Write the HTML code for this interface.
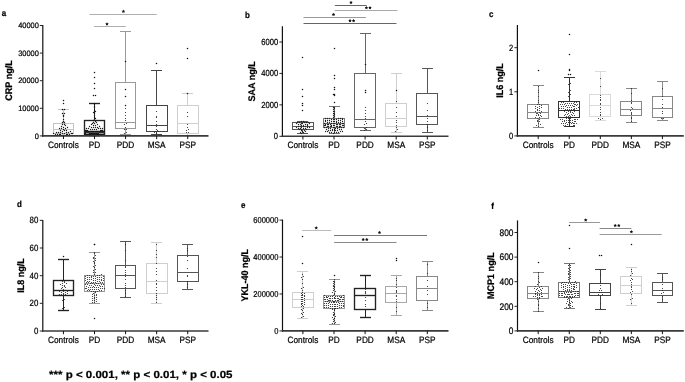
<!DOCTYPE html>
<html><head><meta charset="utf-8"><style>
html,body{margin:0;padding:0;background:#fff;width:685px;height:382px;overflow:hidden}
svg{display:block;will-change:transform}
text{font-family:"Liberation Sans", sans-serif;fill:#000;stroke:#000;stroke-width:0.22px;text-rendering:geometricPrecision}
</style></head><body>
<svg width="685" height="382" viewBox="0 0 685 382">
<rect width="685" height="382" fill="#fff"/>
<line x1="63.50" y1="109.50" x2="63.50" y2="123.50" stroke="#c4c4c4" stroke-width="1"/>
<line x1="63.50" y1="133.50" x2="63.50" y2="135.50" stroke="#c4c4c4" stroke-width="1"/>
<line x1="58.00" y1="109.50" x2="69.00" y2="109.50" stroke="#c4c4c4" stroke-width="1.0"/>
<line x1="58.00" y1="135.50" x2="69.00" y2="135.50" stroke="#c4c4c4" stroke-width="1.0"/>
<rect x="53.50" y="123.50" width="20.00" height="10.00" fill="none" stroke="#c4c4c4" stroke-width="1.0"/>
<line x1="53.50" y1="129.50" x2="73.50" y2="129.50" stroke="#c4c4c4" stroke-width="1.0"/>
<line x1="94.50" y1="103.50" x2="94.50" y2="120.50" stroke="#222" stroke-width="1"/>
<line x1="94.50" y1="134.50" x2="94.50" y2="135.50" stroke="#222" stroke-width="1"/>
<line x1="89.00" y1="103.50" x2="100.00" y2="103.50" stroke="#222" stroke-width="1.35"/>
<line x1="89.00" y1="135.50" x2="100.00" y2="135.50" stroke="#222" stroke-width="1.35"/>
<rect x="84.50" y="120.50" width="20.00" height="14.00" fill="none" stroke="#222" stroke-width="1.35"/>
<line x1="84.50" y1="131.50" x2="104.50" y2="131.50" stroke="#222" stroke-width="1.35"/>
<line x1="125.50" y1="31.50" x2="125.50" y2="82.50" stroke="#9a9a9a" stroke-width="1"/>
<line x1="125.50" y1="128.50" x2="125.50" y2="134.50" stroke="#9a9a9a" stroke-width="1"/>
<line x1="120.00" y1="31.50" x2="131.00" y2="31.50" stroke="#9a9a9a" stroke-width="1.0"/>
<line x1="120.00" y1="134.50" x2="131.00" y2="134.50" stroke="#9a9a9a" stroke-width="1.0"/>
<rect x="115.50" y="82.50" width="20.00" height="46.00" fill="none" stroke="#9a9a9a" stroke-width="1.0"/>
<line x1="115.50" y1="122.50" x2="135.50" y2="122.50" stroke="#9a9a9a" stroke-width="1.0"/>
<line x1="156.50" y1="70.50" x2="156.50" y2="105.50" stroke="#444" stroke-width="1"/>
<line x1="156.50" y1="131.50" x2="156.50" y2="134.50" stroke="#444" stroke-width="1"/>
<line x1="151.00" y1="70.50" x2="162.00" y2="70.50" stroke="#444" stroke-width="1.0"/>
<line x1="151.00" y1="134.50" x2="162.00" y2="134.50" stroke="#444" stroke-width="1.0"/>
<rect x="146.50" y="105.50" width="21.00" height="26.00" fill="none" stroke="#444" stroke-width="1.0"/>
<line x1="146.50" y1="125.50" x2="167.50" y2="125.50" stroke="#444" stroke-width="1.0"/>
<line x1="187.50" y1="93.50" x2="187.50" y2="105.50" stroke="#cfcfcf" stroke-width="1"/>
<line x1="187.50" y1="133.50" x2="187.50" y2="135.50" stroke="#cfcfcf" stroke-width="1"/>
<line x1="182.00" y1="93.50" x2="193.00" y2="93.50" stroke="#cfcfcf" stroke-width="1.0"/>
<line x1="182.00" y1="135.50" x2="193.00" y2="135.50" stroke="#cfcfcf" stroke-width="1.0"/>
<rect x="177.50" y="105.50" width="21.00" height="28.00" fill="none" stroke="#cfcfcf" stroke-width="1.0"/>
<line x1="177.50" y1="123.50" x2="198.50" y2="123.50" stroke="#cfcfcf" stroke-width="1.0"/>
<circle cx="62.5" cy="135.5" r="0.68" fill="#1a1a1a"/>
<circle cx="64.5" cy="135.5" r="0.68" fill="#1a1a1a"/>
<circle cx="60.5" cy="134.5" r="0.68" fill="#1a1a1a"/>
<circle cx="66.5" cy="134.5" r="0.68" fill="#1a1a1a"/>
<circle cx="59.5" cy="134.5" r="0.68" fill="#1a1a1a"/>
<circle cx="67.5" cy="134.5" r="0.68" fill="#1a1a1a"/>
<circle cx="57.5" cy="134.5" r="0.68" fill="#1a1a1a"/>
<circle cx="69.5" cy="134.5" r="0.68" fill="#1a1a1a"/>
<circle cx="55.5" cy="134.5" r="0.68" fill="#1a1a1a"/>
<circle cx="71.5" cy="133.5" r="0.68" fill="#1a1a1a"/>
<circle cx="53.5" cy="133.5" r="0.68" fill="#1a1a1a"/>
<circle cx="72.5" cy="133.5" r="0.68" fill="#1a1a1a"/>
<circle cx="62.5" cy="133.5" r="0.68" fill="#1a1a1a"/>
<circle cx="64.5" cy="133.5" r="0.68" fill="#1a1a1a"/>
<circle cx="60.5" cy="132.5" r="0.68" fill="#1a1a1a"/>
<circle cx="66.5" cy="132.5" r="0.68" fill="#1a1a1a"/>
<circle cx="58.5" cy="132.5" r="0.68" fill="#1a1a1a"/>
<circle cx="68.5" cy="132.5" r="0.68" fill="#1a1a1a"/>
<circle cx="56.5" cy="132.5" r="0.68" fill="#1a1a1a"/>
<circle cx="70.5" cy="131.5" r="0.68" fill="#1a1a1a"/>
<circle cx="62.5" cy="131.5" r="0.68" fill="#1a1a1a"/>
<circle cx="64.5" cy="130.5" r="0.68" fill="#1a1a1a"/>
<circle cx="60.5" cy="130.5" r="0.68" fill="#1a1a1a"/>
<circle cx="66.5" cy="130.5" r="0.68" fill="#1a1a1a"/>
<circle cx="63.5" cy="129.5" r="0.68" fill="#1a1a1a"/>
<circle cx="61.5" cy="128.5" r="0.68" fill="#1a1a1a"/>
<circle cx="65.5" cy="128.5" r="0.68" fill="#1a1a1a"/>
<circle cx="59.5" cy="128.5" r="0.68" fill="#1a1a1a"/>
<circle cx="67.5" cy="127.5" r="0.68" fill="#1a1a1a"/>
<circle cx="63.5" cy="127.5" r="0.68" fill="#1a1a1a"/>
<circle cx="61.5" cy="126.5" r="0.68" fill="#1a1a1a"/>
<circle cx="65.5" cy="125.5" r="0.68" fill="#1a1a1a"/>
<circle cx="62.5" cy="124.5" r="0.68" fill="#1a1a1a"/>
<circle cx="64.5" cy="124.5" r="0.68" fill="#1a1a1a"/>
<circle cx="62.5" cy="122.5" r="0.68" fill="#1a1a1a"/>
<circle cx="64.5" cy="122.5" r="0.68" fill="#1a1a1a"/>
<circle cx="63.5" cy="121.5" r="0.68" fill="#1a1a1a"/>
<circle cx="63.5" cy="119.5" r="0.68" fill="#1a1a1a"/>
<circle cx="63.5" cy="116.5" r="0.68" fill="#1a1a1a"/>
<circle cx="63.5" cy="115.5" r="0.75" fill="#111"/>
<circle cx="62.5" cy="113.5" r="0.75" fill="#111"/>
<circle cx="64.5" cy="113.5" r="0.68" fill="#1a1a1a"/>
<circle cx="62.5" cy="109.5" r="0.75" fill="#111"/>
<circle cx="64.5" cy="109.5" r="0.75" fill="#111"/>
<circle cx="63.5" cy="103.5" r="0.75" fill="#111"/>
<circle cx="63.5" cy="100.5" r="0.75" fill="#111"/>
<circle cx="94.5" cy="135.5" r="0.68" fill="#1a1a1a"/>
<circle cx="93.5" cy="135.5" r="0.68" fill="#1a1a1a"/>
<circle cx="95.5" cy="135.5" r="0.68" fill="#1a1a1a"/>
<circle cx="92.5" cy="135.5" r="0.68" fill="#1a1a1a"/>
<circle cx="96.5" cy="135.5" r="0.68" fill="#1a1a1a"/>
<circle cx="91.5" cy="135.5" r="0.68" fill="#1a1a1a"/>
<circle cx="97.5" cy="134.5" r="0.68" fill="#1a1a1a"/>
<circle cx="91.5" cy="134.5" r="0.68" fill="#1a1a1a"/>
<circle cx="97.5" cy="134.5" r="0.68" fill="#1a1a1a"/>
<circle cx="90.5" cy="134.5" r="0.68" fill="#1a1a1a"/>
<circle cx="98.5" cy="134.5" r="0.68" fill="#1a1a1a"/>
<circle cx="89.5" cy="134.5" r="0.68" fill="#1a1a1a"/>
<circle cx="99.5" cy="134.5" r="0.68" fill="#1a1a1a"/>
<circle cx="88.5" cy="134.5" r="0.68" fill="#1a1a1a"/>
<circle cx="100.5" cy="134.5" r="0.68" fill="#1a1a1a"/>
<circle cx="87.5" cy="134.5" r="0.68" fill="#1a1a1a"/>
<circle cx="101.5" cy="134.5" r="0.68" fill="#1a1a1a"/>
<circle cx="86.5" cy="134.5" r="0.68" fill="#1a1a1a"/>
<circle cx="102.5" cy="134.5" r="0.68" fill="#1a1a1a"/>
<circle cx="85.5" cy="134.5" r="0.68" fill="#1a1a1a"/>
<circle cx="103.5" cy="134.5" r="0.68" fill="#1a1a1a"/>
<circle cx="85.5" cy="133.5" r="0.68" fill="#1a1a1a"/>
<circle cx="104.5" cy="133.5" r="0.68" fill="#1a1a1a"/>
<circle cx="94.5" cy="133.5" r="0.68" fill="#1a1a1a"/>
<circle cx="93.5" cy="133.5" r="0.68" fill="#1a1a1a"/>
<circle cx="95.5" cy="133.5" r="0.68" fill="#1a1a1a"/>
<circle cx="92.5" cy="133.5" r="0.68" fill="#1a1a1a"/>
<circle cx="96.5" cy="133.5" r="0.68" fill="#1a1a1a"/>
<circle cx="92.5" cy="133.5" r="0.68" fill="#1a1a1a"/>
<circle cx="96.5" cy="133.5" r="0.68" fill="#1a1a1a"/>
<circle cx="91.5" cy="133.5" r="0.68" fill="#1a1a1a"/>
<circle cx="97.5" cy="133.5" r="0.68" fill="#1a1a1a"/>
<circle cx="90.5" cy="133.5" r="0.68" fill="#1a1a1a"/>
<circle cx="98.5" cy="133.5" r="0.68" fill="#1a1a1a"/>
<circle cx="89.5" cy="133.5" r="0.68" fill="#1a1a1a"/>
<circle cx="99.5" cy="132.5" r="0.68" fill="#1a1a1a"/>
<circle cx="88.5" cy="132.5" r="0.68" fill="#1a1a1a"/>
<circle cx="100.5" cy="132.5" r="0.68" fill="#1a1a1a"/>
<circle cx="88.5" cy="132.5" r="0.68" fill="#1a1a1a"/>
<circle cx="100.5" cy="132.5" r="0.68" fill="#1a1a1a"/>
<circle cx="87.5" cy="132.5" r="0.68" fill="#1a1a1a"/>
<circle cx="101.5" cy="132.5" r="0.68" fill="#1a1a1a"/>
<circle cx="86.5" cy="132.5" r="0.68" fill="#1a1a1a"/>
<circle cx="102.5" cy="132.5" r="0.68" fill="#1a1a1a"/>
<circle cx="85.5" cy="132.5" r="0.68" fill="#1a1a1a"/>
<circle cx="103.5" cy="132.5" r="0.68" fill="#1a1a1a"/>
<circle cx="85.5" cy="132.5" r="0.68" fill="#1a1a1a"/>
<circle cx="104.5" cy="132.5" r="0.68" fill="#1a1a1a"/>
<circle cx="93.5" cy="131.5" r="0.68" fill="#1a1a1a"/>
<circle cx="95.5" cy="131.5" r="0.68" fill="#1a1a1a"/>
<circle cx="92.5" cy="131.5" r="0.68" fill="#1a1a1a"/>
<circle cx="96.5" cy="131.5" r="0.68" fill="#1a1a1a"/>
<circle cx="91.5" cy="131.5" r="0.68" fill="#1a1a1a"/>
<circle cx="97.5" cy="131.5" r="0.68" fill="#1a1a1a"/>
<circle cx="90.5" cy="131.5" r="0.68" fill="#1a1a1a"/>
<circle cx="98.5" cy="131.5" r="0.68" fill="#1a1a1a"/>
<circle cx="88.5" cy="131.5" r="0.68" fill="#1a1a1a"/>
<circle cx="100.5" cy="130.5" r="0.68" fill="#1a1a1a"/>
<circle cx="87.5" cy="130.5" r="0.68" fill="#1a1a1a"/>
<circle cx="101.5" cy="130.5" r="0.68" fill="#1a1a1a"/>
<circle cx="86.5" cy="130.5" r="0.68" fill="#1a1a1a"/>
<circle cx="102.5" cy="130.5" r="0.68" fill="#1a1a1a"/>
<circle cx="85.5" cy="130.5" r="0.68" fill="#1a1a1a"/>
<circle cx="104.5" cy="130.5" r="0.68" fill="#1a1a1a"/>
<circle cx="94.5" cy="129.5" r="0.68" fill="#1a1a1a"/>
<circle cx="92.5" cy="129.5" r="0.68" fill="#1a1a1a"/>
<circle cx="96.5" cy="129.5" r="0.68" fill="#1a1a1a"/>
<circle cx="90.5" cy="129.5" r="0.68" fill="#1a1a1a"/>
<circle cx="98.5" cy="128.5" r="0.68" fill="#1a1a1a"/>
<circle cx="88.5" cy="128.5" r="0.68" fill="#1a1a1a"/>
<circle cx="100.5" cy="128.5" r="0.68" fill="#1a1a1a"/>
<circle cx="86.5" cy="128.5" r="0.68" fill="#1a1a1a"/>
<circle cx="102.5" cy="128.5" r="0.68" fill="#1a1a1a"/>
<circle cx="93.5" cy="127.5" r="0.68" fill="#1a1a1a"/>
<circle cx="95.5" cy="127.5" r="0.68" fill="#1a1a1a"/>
<circle cx="91.5" cy="127.5" r="0.68" fill="#1a1a1a"/>
<circle cx="97.5" cy="127.5" r="0.68" fill="#1a1a1a"/>
<circle cx="89.5" cy="126.5" r="0.68" fill="#1a1a1a"/>
<circle cx="99.5" cy="126.5" r="0.68" fill="#1a1a1a"/>
<circle cx="93.5" cy="125.5" r="0.68" fill="#1a1a1a"/>
<circle cx="95.5" cy="125.5" r="0.68" fill="#1a1a1a"/>
<circle cx="91.5" cy="124.5" r="0.68" fill="#1a1a1a"/>
<circle cx="97.5" cy="124.5" r="0.68" fill="#1a1a1a"/>
<circle cx="94.5" cy="123.5" r="0.68" fill="#1a1a1a"/>
<circle cx="92.5" cy="123.5" r="0.68" fill="#1a1a1a"/>
<circle cx="96.5" cy="122.5" r="0.68" fill="#1a1a1a"/>
<circle cx="93.5" cy="122.5" r="0.68" fill="#1a1a1a"/>
<circle cx="95.5" cy="121.5" r="0.68" fill="#1a1a1a"/>
<circle cx="93.5" cy="120.5" r="0.68" fill="#1a1a1a"/>
<circle cx="95.5" cy="118.5" r="0.68" fill="#1a1a1a"/>
<circle cx="94.5" cy="117.5" r="0.68" fill="#1a1a1a"/>
<circle cx="94.5" cy="115.5" r="0.68" fill="#1a1a1a"/>
<circle cx="94.5" cy="113.5" r="0.68" fill="#1a1a1a"/>
<circle cx="93.5" cy="112.5" r="0.68" fill="#1a1a1a"/>
<circle cx="95.5" cy="111.5" r="0.68" fill="#1a1a1a"/>
<circle cx="94.5" cy="110.5" r="0.68" fill="#1a1a1a"/>
<circle cx="94.5" cy="107.5" r="0.68" fill="#1a1a1a"/>
<circle cx="94.5" cy="106.5" r="0.68" fill="#1a1a1a"/>
<circle cx="94.5" cy="104.5" r="0.68" fill="#1a1a1a"/>
<circle cx="94.5" cy="103.5" r="0.68" fill="#1a1a1a"/>
<circle cx="93.5" cy="95.5" r="0.75" fill="#111"/>
<circle cx="95.5" cy="95.5" r="0.75" fill="#111"/>
<circle cx="94.5" cy="88.5" r="0.75" fill="#111"/>
<circle cx="94.5" cy="83.5" r="0.75" fill="#111"/>
<circle cx="94.5" cy="77.5" r="0.75" fill="#111"/>
<circle cx="94.5" cy="72.5" r="0.75" fill="#111"/>
<circle cx="124.5" cy="133.5" r="0.6" fill="#2a2a2a"/>
<circle cx="126.5" cy="132.5" r="0.6" fill="#2a2a2a"/>
<circle cx="124.5" cy="129.5" r="0.6" fill="#2a2a2a"/>
<circle cx="126.5" cy="129.5" r="0.6" fill="#2a2a2a"/>
<circle cx="125.5" cy="127.5" r="0.6" fill="#2a2a2a"/>
<circle cx="124.5" cy="124.5" r="0.6" fill="#2a2a2a"/>
<circle cx="126.5" cy="123.5" r="0.6" fill="#2a2a2a"/>
<circle cx="125.5" cy="120.5" r="0.6" fill="#2a2a2a"/>
<circle cx="125.5" cy="118.5" r="0.6" fill="#2a2a2a"/>
<circle cx="125.5" cy="115.5" r="0.6" fill="#2a2a2a"/>
<circle cx="125.5" cy="112.5" r="0.6" fill="#2a2a2a"/>
<circle cx="125.5" cy="108.5" r="0.6" fill="#2a2a2a"/>
<circle cx="125.5" cy="105.5" r="0.75" fill="#111"/>
<circle cx="125.5" cy="96.5" r="0.75" fill="#111"/>
<circle cx="125.5" cy="89.5" r="0.75" fill="#111"/>
<circle cx="125.5" cy="61.5" r="0.75" fill="#111"/>
<circle cx="156.5" cy="133.5" r="0.6" fill="#2a2a2a"/>
<circle cx="154.5" cy="132.5" r="0.6" fill="#2a2a2a"/>
<circle cx="158.5" cy="131.5" r="0.6" fill="#2a2a2a"/>
<circle cx="155.5" cy="131.5" r="0.6" fill="#2a2a2a"/>
<circle cx="157.5" cy="130.5" r="0.6" fill="#2a2a2a"/>
<circle cx="156.5" cy="129.5" r="0.6" fill="#2a2a2a"/>
<circle cx="156.5" cy="126.5" r="0.6" fill="#2a2a2a"/>
<circle cx="156.5" cy="124.5" r="0.6" fill="#2a2a2a"/>
<circle cx="156.5" cy="121.5" r="0.6" fill="#2a2a2a"/>
<circle cx="156.5" cy="117.5" r="0.6" fill="#2a2a2a"/>
<circle cx="156.5" cy="116.5" r="0.6" fill="#2a2a2a"/>
<circle cx="156.5" cy="111.5" r="0.6" fill="#2a2a2a"/>
<circle cx="156.5" cy="63.5" r="0.75" fill="#111"/>
<circle cx="186.5" cy="132.5" r="0.6" fill="#2a2a2a"/>
<circle cx="188.5" cy="132.5" r="0.6" fill="#2a2a2a"/>
<circle cx="186.5" cy="130.5" r="0.6" fill="#2a2a2a"/>
<circle cx="188.5" cy="129.5" r="0.6" fill="#2a2a2a"/>
<circle cx="187.5" cy="127.5" r="0.6" fill="#2a2a2a"/>
<circle cx="187.5" cy="124.5" r="0.6" fill="#2a2a2a"/>
<circle cx="187.5" cy="116.5" r="0.6" fill="#2a2a2a"/>
<circle cx="187.5" cy="112.5" r="0.6" fill="#2a2a2a"/>
<circle cx="187.5" cy="93.5" r="0.75" fill="#111"/>
<circle cx="187.5" cy="58.5" r="0.75" fill="#111"/>
<circle cx="187.5" cy="48.5" r="0.75" fill="#111"/>
<line x1="84.12" y1="132.60" x2="104.92" y2="132.60" stroke="#333" stroke-width="0.9"/>
<line x1="42.80" y1="25.00" x2="42.80" y2="136.65" stroke="#111" stroke-width="1.2"/>
<line x1="42.20" y1="135.90" x2="208.50" y2="135.90" stroke="#3a3a3a" stroke-width="1.6"/>
<line x1="39.80" y1="25.50" x2="42.80" y2="25.50" stroke="#111" stroke-width="0.9"/>
<text transform="translate(38.90,28.17) scale(0.95,1)" font-size="7.85" text-anchor="end">40000</text>
<line x1="39.80" y1="53.10" x2="42.80" y2="53.10" stroke="#111" stroke-width="0.9"/>
<text transform="translate(38.90,55.77) scale(0.95,1)" font-size="7.85" text-anchor="end">30000</text>
<line x1="39.80" y1="80.70" x2="42.80" y2="80.70" stroke="#111" stroke-width="0.9"/>
<text transform="translate(38.90,83.37) scale(0.95,1)" font-size="7.85" text-anchor="end">20000</text>
<line x1="39.80" y1="108.30" x2="42.80" y2="108.30" stroke="#111" stroke-width="0.9"/>
<text transform="translate(38.90,110.97) scale(0.95,1)" font-size="7.85" text-anchor="end">10000</text>
<line x1="39.80" y1="135.90" x2="42.80" y2="135.90" stroke="#111" stroke-width="0.9"/>
<text transform="translate(38.90,138.57) scale(0.95,1)" font-size="7.85" text-anchor="end">0</text>
<line x1="63.45" y1="135.90" x2="63.45" y2="139.10" stroke="#111" stroke-width="1.0"/>
<text transform="translate(63.45,147.60) scale(0.9,1)" font-size="9.2" text-anchor="middle">Controls</text>
<line x1="94.52" y1="135.90" x2="94.52" y2="139.10" stroke="#111" stroke-width="1.0"/>
<text transform="translate(94.52,147.60) scale(0.9,1)" font-size="9.2" text-anchor="middle">PD</text>
<line x1="125.59" y1="135.90" x2="125.59" y2="139.10" stroke="#111" stroke-width="1.0"/>
<text transform="translate(125.59,147.60) scale(0.9,1)" font-size="9.2" text-anchor="middle">PDD</text>
<line x1="156.66" y1="135.90" x2="156.66" y2="139.10" stroke="#111" stroke-width="1.0"/>
<text transform="translate(156.66,147.60) scale(0.9,1)" font-size="9.2" text-anchor="middle">MSA</text>
<line x1="187.73" y1="135.90" x2="187.73" y2="139.10" stroke="#111" stroke-width="1.0"/>
<text transform="translate(187.73,147.60) scale(0.9,1)" font-size="9.2" text-anchor="middle">PSP</text>
<text transform="translate(11.60,80.45) rotate(-90) scale(0.94,1)" font-size="9.6" font-weight="bold" text-anchor="middle">CRP ng/L</text>
<text transform="translate(1.70,15.60) scale(0.9,1)" font-size="8.8" font-weight="bold">a</text>
<line x1="89.50" y1="14.50" x2="156.70" y2="14.50" stroke="#b0b0b0" stroke-width="1"/>
<polygon points="123.40,9.55 123.96,10.63 125.16,10.83 124.30,11.69 124.49,12.90 123.40,12.35 122.31,12.90 122.50,11.69 121.64,10.83 122.84,10.63" fill="#111"/>
<line x1="94.00" y1="26.50" x2="125.80" y2="26.50" stroke="#b0b0b0" stroke-width="1"/>
<polygon points="107.00,22.15 107.56,23.23 108.76,23.43 107.90,24.29 108.09,25.50 107.00,24.95 105.91,25.50 106.10,24.29 105.24,23.43 106.44,23.23" fill="#111"/>
<line x1="302.50" y1="121.50" x2="302.50" y2="122.50" stroke="#555" stroke-width="1"/>
<line x1="302.50" y1="129.50" x2="302.50" y2="133.50" stroke="#555" stroke-width="1"/>
<line x1="297.00" y1="121.50" x2="308.00" y2="121.50" stroke="#555" stroke-width="1.0"/>
<line x1="297.00" y1="133.50" x2="308.00" y2="133.50" stroke="#555" stroke-width="1.0"/>
<rect x="292.50" y="122.50" width="21.00" height="7.00" fill="none" stroke="#555" stroke-width="1.0"/>
<line x1="292.50" y1="126.50" x2="313.50" y2="126.50" stroke="#555" stroke-width="1.0"/>
<line x1="334.50" y1="106.50" x2="334.50" y2="118.50" stroke="#777" stroke-width="1"/>
<line x1="334.50" y1="127.50" x2="334.50" y2="133.50" stroke="#777" stroke-width="1"/>
<line x1="329.00" y1="106.50" x2="340.00" y2="106.50" stroke="#777" stroke-width="1.0"/>
<line x1="329.00" y1="133.50" x2="340.00" y2="133.50" stroke="#777" stroke-width="1.0"/>
<rect x="323.50" y="118.50" width="21.00" height="9.00" fill="none" stroke="#777" stroke-width="1.0"/>
<line x1="323.50" y1="123.50" x2="344.50" y2="123.50" stroke="#777" stroke-width="1.0"/>
<line x1="365.50" y1="33.50" x2="365.50" y2="73.50" stroke="#666" stroke-width="1"/>
<line x1="365.50" y1="127.50" x2="365.50" y2="130.50" stroke="#666" stroke-width="1"/>
<line x1="360.00" y1="33.50" x2="371.00" y2="33.50" stroke="#666" stroke-width="1.0"/>
<line x1="360.00" y1="130.50" x2="371.00" y2="130.50" stroke="#666" stroke-width="1.0"/>
<rect x="354.50" y="73.50" width="21.00" height="54.00" fill="none" stroke="#666" stroke-width="1.0"/>
<line x1="354.50" y1="119.50" x2="375.50" y2="119.50" stroke="#666" stroke-width="1.0"/>
<line x1="396.50" y1="73.50" x2="396.50" y2="103.50" stroke="#cfcfcf" stroke-width="1"/>
<line x1="396.50" y1="126.50" x2="396.50" y2="132.50" stroke="#cfcfcf" stroke-width="1"/>
<line x1="391.00" y1="73.50" x2="402.00" y2="73.50" stroke="#cfcfcf" stroke-width="1.0"/>
<line x1="391.00" y1="132.50" x2="402.00" y2="132.50" stroke="#cfcfcf" stroke-width="1.0"/>
<rect x="385.50" y="103.50" width="21.00" height="23.00" fill="none" stroke="#cfcfcf" stroke-width="1.0"/>
<line x1="385.50" y1="118.50" x2="406.50" y2="118.50" stroke="#cfcfcf" stroke-width="1.0"/>
<line x1="427.50" y1="68.50" x2="427.50" y2="93.50" stroke="#555" stroke-width="1"/>
<line x1="427.50" y1="124.50" x2="427.50" y2="132.50" stroke="#555" stroke-width="1"/>
<line x1="422.00" y1="68.50" x2="433.00" y2="68.50" stroke="#555" stroke-width="1.0"/>
<line x1="422.00" y1="132.50" x2="433.00" y2="132.50" stroke="#555" stroke-width="1.0"/>
<rect x="416.50" y="93.50" width="21.00" height="31.00" fill="none" stroke="#555" stroke-width="1.0"/>
<line x1="416.50" y1="116.50" x2="437.50" y2="116.50" stroke="#555" stroke-width="1.0"/>
<circle cx="301.5" cy="133.5" r="0.64" fill="#222"/>
<circle cx="303.5" cy="132.5" r="0.64" fill="#222"/>
<circle cx="300.5" cy="132.5" r="0.64" fill="#222"/>
<circle cx="305.5" cy="131.5" r="0.64" fill="#222"/>
<circle cx="302.5" cy="131.5" r="0.64" fill="#222"/>
<circle cx="301.5" cy="130.5" r="0.64" fill="#222"/>
<circle cx="304.5" cy="130.5" r="0.64" fill="#222"/>
<circle cx="299.5" cy="129.5" r="0.64" fill="#222"/>
<circle cx="306.5" cy="129.5" r="0.64" fill="#222"/>
<circle cx="301.5" cy="129.5" r="0.64" fill="#222"/>
<circle cx="303.5" cy="128.5" r="0.64" fill="#222"/>
<circle cx="300.5" cy="128.5" r="0.64" fill="#222"/>
<circle cx="305.5" cy="128.5" r="0.64" fill="#222"/>
<circle cx="298.5" cy="128.5" r="0.64" fill="#222"/>
<circle cx="307.5" cy="127.5" r="0.64" fill="#222"/>
<circle cx="296.5" cy="127.5" r="0.64" fill="#222"/>
<circle cx="309.5" cy="127.5" r="0.64" fill="#222"/>
<circle cx="301.5" cy="127.5" r="0.64" fill="#222"/>
<circle cx="303.5" cy="126.5" r="0.64" fill="#222"/>
<circle cx="300.5" cy="126.5" r="0.64" fill="#222"/>
<circle cx="305.5" cy="126.5" r="0.64" fill="#222"/>
<circle cx="298.5" cy="126.5" r="0.64" fill="#222"/>
<circle cx="307.5" cy="125.5" r="0.64" fill="#222"/>
<circle cx="301.5" cy="125.5" r="0.64" fill="#222"/>
<circle cx="303.5" cy="125.5" r="0.64" fill="#222"/>
<circle cx="300.5" cy="124.5" r="0.64" fill="#222"/>
<circle cx="305.5" cy="124.5" r="0.64" fill="#222"/>
<circle cx="298.5" cy="124.5" r="0.64" fill="#222"/>
<circle cx="307.5" cy="124.5" r="0.64" fill="#222"/>
<circle cx="296.5" cy="123.5" r="0.64" fill="#222"/>
<circle cx="309.5" cy="123.5" r="0.64" fill="#222"/>
<circle cx="302.5" cy="123.5" r="0.64" fill="#222"/>
<circle cx="301.5" cy="123.5" r="0.64" fill="#222"/>
<circle cx="304.5" cy="122.5" r="0.64" fill="#222"/>
<circle cx="299.5" cy="122.5" r="0.64" fill="#222"/>
<circle cx="306.5" cy="122.5" r="0.64" fill="#222"/>
<circle cx="297.5" cy="122.5" r="0.64" fill="#222"/>
<circle cx="308.5" cy="122.5" r="0.64" fill="#222"/>
<circle cx="301.5" cy="121.5" r="0.64" fill="#222"/>
<circle cx="303.5" cy="121.5" r="0.64" fill="#222"/>
<circle cx="302.5" cy="110.5" r="0.75" fill="#111"/>
<circle cx="302.5" cy="105.5" r="0.75" fill="#111"/>
<circle cx="302.5" cy="103.5" r="0.75" fill="#111"/>
<circle cx="302.5" cy="96.5" r="0.75" fill="#111"/>
<circle cx="302.5" cy="89.5" r="0.75" fill="#111"/>
<circle cx="302.5" cy="57.5" r="0.75" fill="#111"/>
<circle cx="333.5" cy="133.5" r="0.64" fill="#222"/>
<circle cx="334.5" cy="132.5" r="0.64" fill="#222"/>
<circle cx="331.5" cy="132.5" r="0.64" fill="#222"/>
<circle cx="336.5" cy="132.5" r="0.64" fill="#222"/>
<circle cx="329.5" cy="132.5" r="0.64" fill="#222"/>
<circle cx="338.5" cy="132.5" r="0.64" fill="#222"/>
<circle cx="327.5" cy="131.5" r="0.64" fill="#222"/>
<circle cx="340.5" cy="131.5" r="0.64" fill="#222"/>
<circle cx="325.5" cy="131.5" r="0.64" fill="#222"/>
<circle cx="342.5" cy="131.5" r="0.64" fill="#222"/>
<circle cx="334.5" cy="130.5" r="0.64" fill="#222"/>
<circle cx="332.5" cy="130.5" r="0.64" fill="#222"/>
<circle cx="335.5" cy="130.5" r="0.64" fill="#222"/>
<circle cx="330.5" cy="130.5" r="0.64" fill="#222"/>
<circle cx="337.5" cy="130.5" r="0.64" fill="#222"/>
<circle cx="328.5" cy="130.5" r="0.64" fill="#222"/>
<circle cx="339.5" cy="129.5" r="0.64" fill="#222"/>
<circle cx="326.5" cy="129.5" r="0.64" fill="#222"/>
<circle cx="341.5" cy="129.5" r="0.64" fill="#222"/>
<circle cx="334.5" cy="129.5" r="0.64" fill="#222"/>
<circle cx="332.5" cy="129.5" r="0.64" fill="#222"/>
<circle cx="335.5" cy="128.5" r="0.64" fill="#222"/>
<circle cx="330.5" cy="128.5" r="0.64" fill="#222"/>
<circle cx="337.5" cy="128.5" r="0.64" fill="#222"/>
<circle cx="328.5" cy="128.5" r="0.64" fill="#222"/>
<circle cx="339.5" cy="127.5" r="0.64" fill="#222"/>
<circle cx="326.5" cy="127.5" r="0.64" fill="#222"/>
<circle cx="341.5" cy="127.5" r="0.64" fill="#222"/>
<circle cx="324.5" cy="127.5" r="0.64" fill="#222"/>
<circle cx="343.5" cy="127.5" r="0.64" fill="#222"/>
<circle cx="333.5" cy="127.5" r="0.64" fill="#222"/>
<circle cx="334.5" cy="127.5" r="0.64" fill="#222"/>
<circle cx="331.5" cy="126.5" r="0.64" fill="#222"/>
<circle cx="336.5" cy="126.5" r="0.64" fill="#222"/>
<circle cx="330.5" cy="126.5" r="0.64" fill="#222"/>
<circle cx="337.5" cy="126.5" r="0.64" fill="#222"/>
<circle cx="328.5" cy="126.5" r="0.64" fill="#222"/>
<circle cx="339.5" cy="126.5" r="0.64" fill="#222"/>
<circle cx="327.5" cy="126.5" r="0.64" fill="#222"/>
<circle cx="340.5" cy="126.5" r="0.64" fill="#222"/>
<circle cx="325.5" cy="125.5" r="0.64" fill="#222"/>
<circle cx="342.5" cy="125.5" r="0.64" fill="#222"/>
<circle cx="324.5" cy="125.5" r="0.64" fill="#222"/>
<circle cx="343.5" cy="125.5" r="0.64" fill="#222"/>
<circle cx="333.5" cy="125.5" r="0.64" fill="#222"/>
<circle cx="334.5" cy="125.5" r="0.64" fill="#222"/>
<circle cx="331.5" cy="125.5" r="0.64" fill="#222"/>
<circle cx="336.5" cy="124.5" r="0.64" fill="#222"/>
<circle cx="330.5" cy="124.5" r="0.64" fill="#222"/>
<circle cx="337.5" cy="124.5" r="0.64" fill="#222"/>
<circle cx="328.5" cy="124.5" r="0.64" fill="#222"/>
<circle cx="339.5" cy="124.5" r="0.64" fill="#222"/>
<circle cx="327.5" cy="124.5" r="0.64" fill="#222"/>
<circle cx="340.5" cy="124.5" r="0.64" fill="#222"/>
<circle cx="325.5" cy="124.5" r="0.64" fill="#222"/>
<circle cx="342.5" cy="123.5" r="0.64" fill="#222"/>
<circle cx="324.5" cy="123.5" r="0.64" fill="#222"/>
<circle cx="343.5" cy="123.5" r="0.64" fill="#222"/>
<circle cx="333.5" cy="123.5" r="0.64" fill="#222"/>
<circle cx="334.5" cy="123.5" r="0.64" fill="#222"/>
<circle cx="331.5" cy="123.5" r="0.64" fill="#222"/>
<circle cx="336.5" cy="122.5" r="0.64" fill="#222"/>
<circle cx="329.5" cy="122.5" r="0.64" fill="#222"/>
<circle cx="338.5" cy="122.5" r="0.64" fill="#222"/>
<circle cx="327.5" cy="122.5" r="0.64" fill="#222"/>
<circle cx="340.5" cy="122.5" r="0.64" fill="#222"/>
<circle cx="325.5" cy="121.5" r="0.64" fill="#222"/>
<circle cx="342.5" cy="121.5" r="0.64" fill="#222"/>
<circle cx="333.5" cy="121.5" r="0.64" fill="#222"/>
<circle cx="334.5" cy="121.5" r="0.64" fill="#222"/>
<circle cx="331.5" cy="121.5" r="0.64" fill="#222"/>
<circle cx="336.5" cy="121.5" r="0.64" fill="#222"/>
<circle cx="329.5" cy="120.5" r="0.64" fill="#222"/>
<circle cx="338.5" cy="120.5" r="0.64" fill="#222"/>
<circle cx="327.5" cy="120.5" r="0.64" fill="#222"/>
<circle cx="340.5" cy="120.5" r="0.64" fill="#222"/>
<circle cx="325.5" cy="120.5" r="0.64" fill="#222"/>
<circle cx="342.5" cy="119.5" r="0.64" fill="#222"/>
<circle cx="333.5" cy="119.5" r="0.64" fill="#222"/>
<circle cx="334.5" cy="119.5" r="0.64" fill="#222"/>
<circle cx="331.5" cy="119.5" r="0.64" fill="#222"/>
<circle cx="336.5" cy="119.5" r="0.64" fill="#222"/>
<circle cx="329.5" cy="118.5" r="0.64" fill="#222"/>
<circle cx="338.5" cy="118.5" r="0.64" fill="#222"/>
<circle cx="327.5" cy="118.5" r="0.64" fill="#222"/>
<circle cx="340.5" cy="118.5" r="0.64" fill="#222"/>
<circle cx="325.5" cy="118.5" r="0.64" fill="#222"/>
<circle cx="342.5" cy="118.5" r="0.64" fill="#222"/>
<circle cx="333.5" cy="117.5" r="0.64" fill="#222"/>
<circle cx="334.5" cy="116.5" r="0.64" fill="#222"/>
<circle cx="333.5" cy="115.5" r="0.64" fill="#222"/>
<circle cx="334.5" cy="114.5" r="0.64" fill="#222"/>
<circle cx="333.5" cy="113.5" r="0.64" fill="#222"/>
<circle cx="334.5" cy="113.5" r="0.64" fill="#222"/>
<circle cx="333.5" cy="111.5" r="0.64" fill="#222"/>
<circle cx="334.5" cy="111.5" r="0.64" fill="#222"/>
<circle cx="333.5" cy="109.5" r="0.64" fill="#222"/>
<circle cx="334.5" cy="108.5" r="0.64" fill="#222"/>
<circle cx="333.5" cy="107.5" r="0.64" fill="#222"/>
<circle cx="334.5" cy="107.5" r="0.64" fill="#222"/>
<circle cx="334.5" cy="102.5" r="0.75" fill="#111"/>
<circle cx="334.5" cy="95.5" r="0.75" fill="#111"/>
<circle cx="333.5" cy="94.5" r="0.75" fill="#111"/>
<circle cx="334.5" cy="94.5" r="0.75" fill="#111"/>
<circle cx="334.5" cy="89.5" r="0.75" fill="#111"/>
<circle cx="334.5" cy="87.5" r="0.75" fill="#111"/>
<circle cx="334.5" cy="78.5" r="0.75" fill="#111"/>
<circle cx="334.5" cy="75.5" r="0.75" fill="#111"/>
<circle cx="334.5" cy="48.5" r="0.75" fill="#111"/>
<circle cx="364.5" cy="130.5" r="0.6" fill="#2a2a2a"/>
<circle cx="366.5" cy="129.5" r="0.6" fill="#2a2a2a"/>
<circle cx="364.5" cy="128.5" r="0.6" fill="#2a2a2a"/>
<circle cx="366.5" cy="127.5" r="0.6" fill="#2a2a2a"/>
<circle cx="364.5" cy="124.5" r="0.6" fill="#2a2a2a"/>
<circle cx="366.5" cy="123.5" r="0.6" fill="#2a2a2a"/>
<circle cx="365.5" cy="121.5" r="0.6" fill="#2a2a2a"/>
<circle cx="365.5" cy="118.5" r="0.6" fill="#2a2a2a"/>
<circle cx="365.5" cy="116.5" r="0.6" fill="#2a2a2a"/>
<circle cx="365.5" cy="113.5" r="0.6" fill="#2a2a2a"/>
<circle cx="365.5" cy="110.5" r="0.6" fill="#2a2a2a"/>
<circle cx="365.5" cy="107.5" r="0.6" fill="#2a2a2a"/>
<circle cx="365.5" cy="92.5" r="0.75" fill="#111"/>
<circle cx="365.5" cy="90.5" r="0.75" fill="#111"/>
<circle cx="365.5" cy="64.5" r="0.75" fill="#111"/>
<circle cx="395.5" cy="131.5" r="0.6" fill="#2a2a2a"/>
<circle cx="397.5" cy="129.5" r="0.6" fill="#2a2a2a"/>
<circle cx="396.5" cy="127.5" r="0.6" fill="#2a2a2a"/>
<circle cx="396.5" cy="125.5" r="0.6" fill="#2a2a2a"/>
<circle cx="396.5" cy="122.5" r="0.6" fill="#2a2a2a"/>
<circle cx="396.5" cy="120.5" r="0.6" fill="#2a2a2a"/>
<circle cx="396.5" cy="116.5" r="0.6" fill="#2a2a2a"/>
<circle cx="396.5" cy="112.5" r="0.6" fill="#2a2a2a"/>
<circle cx="396.5" cy="107.5" r="0.6" fill="#2a2a2a"/>
<circle cx="396.5" cy="101.5" r="0.6" fill="#2a2a2a"/>
<circle cx="396.5" cy="90.5" r="0.75" fill="#111"/>
<circle cx="427.5" cy="130.5" r="0.6" fill="#2a2a2a"/>
<circle cx="427.5" cy="127.5" r="0.6" fill="#2a2a2a"/>
<circle cx="427.5" cy="124.5" r="0.6" fill="#2a2a2a"/>
<circle cx="427.5" cy="121.5" r="0.6" fill="#2a2a2a"/>
<circle cx="427.5" cy="118.5" r="0.6" fill="#2a2a2a"/>
<circle cx="427.5" cy="115.5" r="0.6" fill="#2a2a2a"/>
<circle cx="427.5" cy="110.5" r="0.6" fill="#2a2a2a"/>
<circle cx="427.5" cy="103.5" r="0.6" fill="#2a2a2a"/>
<line x1="282.40" y1="26.30" x2="282.40" y2="137.05" stroke="#111" stroke-width="1.2"/>
<line x1="281.80" y1="136.30" x2="448.50" y2="136.30" stroke="#3a3a3a" stroke-width="1.6"/>
<line x1="279.40" y1="42.00" x2="282.40" y2="42.00" stroke="#111" stroke-width="0.9"/>
<text transform="translate(278.10,45.00) scale(0.86,1)" font-size="8.83" text-anchor="end">6000</text>
<line x1="279.40" y1="73.43" x2="282.40" y2="73.43" stroke="#111" stroke-width="0.9"/>
<text transform="translate(278.10,76.44) scale(0.86,1)" font-size="8.83" text-anchor="end">4000</text>
<line x1="279.40" y1="104.87" x2="282.40" y2="104.87" stroke="#111" stroke-width="0.9"/>
<text transform="translate(278.10,107.87) scale(0.86,1)" font-size="8.83" text-anchor="end">2000</text>
<line x1="279.40" y1="136.30" x2="282.40" y2="136.30" stroke="#111" stroke-width="0.9"/>
<text transform="translate(278.10,139.30) scale(0.86,1)" font-size="8.83" text-anchor="end">0</text>
<line x1="302.90" y1="136.30" x2="302.90" y2="139.50" stroke="#111" stroke-width="1.0"/>
<text transform="translate(302.90,148.30) scale(0.9,1)" font-size="9.2" text-anchor="middle">Controls</text>
<line x1="334.00" y1="136.30" x2="334.00" y2="139.50" stroke="#111" stroke-width="1.0"/>
<text transform="translate(334.00,148.30) scale(0.9,1)" font-size="9.2" text-anchor="middle">PD</text>
<line x1="365.10" y1="136.30" x2="365.10" y2="139.50" stroke="#111" stroke-width="1.0"/>
<text transform="translate(365.10,148.30) scale(0.9,1)" font-size="9.2" text-anchor="middle">PDD</text>
<line x1="396.20" y1="136.30" x2="396.20" y2="139.50" stroke="#111" stroke-width="1.0"/>
<text transform="translate(396.20,148.30) scale(0.9,1)" font-size="9.2" text-anchor="middle">MSA</text>
<line x1="427.30" y1="136.30" x2="427.30" y2="139.50" stroke="#111" stroke-width="1.0"/>
<text transform="translate(427.30,148.30) scale(0.9,1)" font-size="9.2" text-anchor="middle">PSP</text>
<text transform="translate(255.40,81.30) rotate(-90) scale(0.94,1)" font-size="9.6" font-weight="bold" text-anchor="middle">SAA ng/L</text>
<text transform="translate(244.90,17.60) scale(0.9,1)" font-size="8.8" font-weight="bold">b</text>
<line x1="334.80" y1="5.50" x2="366.70" y2="5.50" stroke="#666" stroke-width="1"/>
<polygon points="351.00,0.65 351.56,1.73 352.76,1.93 351.90,2.79 352.09,4.00 351.00,3.45 349.91,4.00 350.10,2.79 349.24,1.93 350.44,1.73" fill="#111"/>
<line x1="334.80" y1="10.50" x2="397.50" y2="10.50" stroke="#aaa" stroke-width="1"/>
<polygon points="366.40,5.95 366.96,7.03 368.16,7.23 367.30,8.09 367.49,9.30 366.40,8.75 365.31,9.30 365.50,8.09 364.64,7.23 365.84,7.03" fill="#111"/>
<polygon points="370.00,5.95 370.56,7.03 371.76,7.23 370.90,8.09 371.09,9.30 370.00,8.75 368.91,9.30 369.10,8.09 368.24,7.23 369.44,7.03" fill="#111"/>
<line x1="303.50" y1="17.50" x2="365.90" y2="17.50" stroke="#999" stroke-width="1"/>
<polygon points="333.50,12.75 334.06,13.83 335.26,14.03 334.40,14.89 334.59,16.10 333.50,15.55 332.41,16.10 332.60,14.89 331.74,14.03 332.94,13.83" fill="#111"/>
<line x1="303.50" y1="23.50" x2="396.50" y2="23.50" stroke="#666" stroke-width="1"/>
<polygon points="350.00,18.85 350.56,19.93 351.76,20.13 350.90,20.99 351.09,22.20 350.00,21.65 348.91,22.20 349.10,20.99 348.24,20.13 349.44,19.93" fill="#111"/>
<polygon points="353.60,18.85 354.16,19.93 355.36,20.13 354.50,20.99 354.69,22.20 353.60,21.65 352.51,22.20 352.70,20.99 351.84,20.13 353.04,19.93" fill="#111"/>
<line x1="538.50" y1="85.50" x2="538.50" y2="104.50" stroke="#888" stroke-width="1"/>
<line x1="538.50" y1="118.50" x2="538.50" y2="127.50" stroke="#888" stroke-width="1"/>
<line x1="533.00" y1="85.50" x2="544.00" y2="85.50" stroke="#888" stroke-width="1.0"/>
<line x1="533.00" y1="127.50" x2="544.00" y2="127.50" stroke="#888" stroke-width="1.0"/>
<rect x="527.50" y="104.50" width="21.00" height="14.00" fill="none" stroke="#888" stroke-width="1.0"/>
<line x1="527.50" y1="112.50" x2="548.50" y2="112.50" stroke="#888" stroke-width="1.0"/>
<line x1="569.50" y1="77.50" x2="569.50" y2="101.50" stroke="#333" stroke-width="1"/>
<line x1="569.50" y1="117.50" x2="569.50" y2="126.50" stroke="#333" stroke-width="1"/>
<line x1="564.00" y1="77.50" x2="575.00" y2="77.50" stroke="#333" stroke-width="1.0"/>
<line x1="564.00" y1="126.50" x2="575.00" y2="126.50" stroke="#333" stroke-width="1.0"/>
<rect x="558.50" y="101.50" width="21.00" height="16.00" fill="none" stroke="#333" stroke-width="1.0"/>
<line x1="558.50" y1="110.50" x2="579.50" y2="110.50" stroke="#333" stroke-width="1.0"/>
<line x1="600.50" y1="71.50" x2="600.50" y2="94.50" stroke="#dadada" stroke-width="1"/>
<line x1="600.50" y1="116.50" x2="600.50" y2="120.50" stroke="#dadada" stroke-width="1"/>
<line x1="595.00" y1="71.50" x2="606.00" y2="71.50" stroke="#dadada" stroke-width="1.0"/>
<line x1="595.00" y1="120.50" x2="606.00" y2="120.50" stroke="#dadada" stroke-width="1.0"/>
<rect x="589.50" y="94.50" width="21.00" height="22.00" fill="none" stroke="#dadada" stroke-width="1.0"/>
<line x1="589.50" y1="105.50" x2="610.50" y2="105.50" stroke="#dadada" stroke-width="1.0"/>
<line x1="631.50" y1="88.50" x2="631.50" y2="101.50" stroke="#888" stroke-width="1"/>
<line x1="631.50" y1="115.50" x2="631.50" y2="122.50" stroke="#888" stroke-width="1"/>
<line x1="626.00" y1="88.50" x2="637.00" y2="88.50" stroke="#888" stroke-width="1.0"/>
<line x1="626.00" y1="122.50" x2="637.00" y2="122.50" stroke="#888" stroke-width="1.0"/>
<rect x="620.50" y="101.50" width="21.00" height="14.00" fill="none" stroke="#888" stroke-width="1.0"/>
<line x1="620.50" y1="109.50" x2="641.50" y2="109.50" stroke="#888" stroke-width="1.0"/>
<line x1="662.50" y1="81.50" x2="662.50" y2="96.50" stroke="#888" stroke-width="1"/>
<line x1="662.50" y1="117.50" x2="662.50" y2="120.50" stroke="#888" stroke-width="1"/>
<line x1="657.00" y1="81.50" x2="668.00" y2="81.50" stroke="#888" stroke-width="1.0"/>
<line x1="657.00" y1="120.50" x2="668.00" y2="120.50" stroke="#888" stroke-width="1.0"/>
<rect x="652.50" y="96.50" width="20.00" height="21.00" fill="none" stroke="#888" stroke-width="1.0"/>
<line x1="652.50" y1="108.50" x2="672.50" y2="108.50" stroke="#888" stroke-width="1.0"/>
<circle cx="538.5" cy="126.5" r="0.58" fill="#2a2a2a"/>
<circle cx="536.5" cy="125.5" r="0.58" fill="#2a2a2a"/>
<circle cx="540.5" cy="124.5" r="0.58" fill="#2a2a2a"/>
<circle cx="538.5" cy="123.5" r="0.58" fill="#2a2a2a"/>
<circle cx="537.5" cy="121.5" r="0.58" fill="#2a2a2a"/>
<circle cx="539.5" cy="121.5" r="0.58" fill="#2a2a2a"/>
<circle cx="537.5" cy="120.5" r="0.58" fill="#2a2a2a"/>
<circle cx="539.5" cy="119.5" r="0.58" fill="#2a2a2a"/>
<circle cx="537.5" cy="118.5" r="0.58" fill="#2a2a2a"/>
<circle cx="539.5" cy="117.5" r="0.58" fill="#2a2a2a"/>
<circle cx="535.5" cy="117.5" r="0.58" fill="#2a2a2a"/>
<circle cx="541.5" cy="116.5" r="0.58" fill="#2a2a2a"/>
<circle cx="538.5" cy="115.5" r="0.58" fill="#2a2a2a"/>
<circle cx="536.5" cy="115.5" r="0.58" fill="#2a2a2a"/>
<circle cx="540.5" cy="115.5" r="0.58" fill="#2a2a2a"/>
<circle cx="538.5" cy="114.5" r="0.58" fill="#2a2a2a"/>
<circle cx="536.5" cy="113.5" r="0.58" fill="#2a2a2a"/>
<circle cx="540.5" cy="113.5" r="0.58" fill="#2a2a2a"/>
<circle cx="537.5" cy="113.5" r="0.58" fill="#2a2a2a"/>
<circle cx="539.5" cy="112.5" r="0.58" fill="#2a2a2a"/>
<circle cx="535.5" cy="111.5" r="0.58" fill="#2a2a2a"/>
<circle cx="541.5" cy="111.5" r="0.58" fill="#2a2a2a"/>
<circle cx="537.5" cy="110.5" r="0.58" fill="#2a2a2a"/>
<circle cx="539.5" cy="110.5" r="0.58" fill="#2a2a2a"/>
<circle cx="537.5" cy="109.5" r="0.58" fill="#2a2a2a"/>
<circle cx="539.5" cy="108.5" r="0.58" fill="#2a2a2a"/>
<circle cx="535.5" cy="108.5" r="0.58" fill="#2a2a2a"/>
<circle cx="541.5" cy="107.5" r="0.58" fill="#2a2a2a"/>
<circle cx="537.5" cy="107.5" r="0.58" fill="#2a2a2a"/>
<circle cx="539.5" cy="106.5" r="0.58" fill="#2a2a2a"/>
<circle cx="535.5" cy="106.5" r="0.58" fill="#2a2a2a"/>
<circle cx="541.5" cy="105.5" r="0.58" fill="#2a2a2a"/>
<circle cx="537.5" cy="104.5" r="0.58" fill="#2a2a2a"/>
<circle cx="539.5" cy="104.5" r="0.58" fill="#2a2a2a"/>
<circle cx="538.5" cy="102.5" r="0.58" fill="#2a2a2a"/>
<circle cx="538.5" cy="100.5" r="0.58" fill="#2a2a2a"/>
<circle cx="538.5" cy="96.5" r="0.58" fill="#2a2a2a"/>
<circle cx="538.5" cy="92.5" r="0.58" fill="#2a2a2a"/>
<circle cx="538.5" cy="90.5" r="0.58" fill="#2a2a2a"/>
<circle cx="538.5" cy="86.5" r="0.58" fill="#2a2a2a"/>
<circle cx="538.5" cy="70.5" r="0.75" fill="#111"/>
<circle cx="569.5" cy="126.5" r="0.58" fill="#2a2a2a"/>
<circle cx="567.5" cy="126.5" r="0.58" fill="#2a2a2a"/>
<circle cx="571.5" cy="126.5" r="0.58" fill="#2a2a2a"/>
<circle cx="565.5" cy="125.5" r="0.58" fill="#2a2a2a"/>
<circle cx="573.5" cy="125.5" r="0.58" fill="#2a2a2a"/>
<circle cx="563.5" cy="125.5" r="0.58" fill="#2a2a2a"/>
<circle cx="574.5" cy="125.5" r="0.58" fill="#2a2a2a"/>
<circle cx="569.5" cy="124.5" r="0.58" fill="#2a2a2a"/>
<circle cx="567.5" cy="124.5" r="0.58" fill="#2a2a2a"/>
<circle cx="571.5" cy="123.5" r="0.58" fill="#2a2a2a"/>
<circle cx="565.5" cy="123.5" r="0.58" fill="#2a2a2a"/>
<circle cx="573.5" cy="123.5" r="0.58" fill="#2a2a2a"/>
<circle cx="563.5" cy="123.5" r="0.58" fill="#2a2a2a"/>
<circle cx="574.5" cy="123.5" r="0.58" fill="#2a2a2a"/>
<circle cx="561.5" cy="123.5" r="0.58" fill="#2a2a2a"/>
<circle cx="576.5" cy="123.5" r="0.58" fill="#2a2a2a"/>
<circle cx="568.5" cy="122.5" r="0.58" fill="#2a2a2a"/>
<circle cx="570.5" cy="122.5" r="0.58" fill="#2a2a2a"/>
<circle cx="566.5" cy="122.5" r="0.58" fill="#2a2a2a"/>
<circle cx="572.5" cy="122.5" r="0.58" fill="#2a2a2a"/>
<circle cx="564.5" cy="121.5" r="0.58" fill="#2a2a2a"/>
<circle cx="574.5" cy="121.5" r="0.58" fill="#2a2a2a"/>
<circle cx="562.5" cy="121.5" r="0.58" fill="#2a2a2a"/>
<circle cx="575.5" cy="121.5" r="0.58" fill="#2a2a2a"/>
<circle cx="568.5" cy="120.5" r="0.58" fill="#2a2a2a"/>
<circle cx="570.5" cy="120.5" r="0.58" fill="#2a2a2a"/>
<circle cx="566.5" cy="120.5" r="0.58" fill="#2a2a2a"/>
<circle cx="572.5" cy="120.5" r="0.58" fill="#2a2a2a"/>
<circle cx="564.5" cy="120.5" r="0.58" fill="#2a2a2a"/>
<circle cx="574.5" cy="119.5" r="0.58" fill="#2a2a2a"/>
<circle cx="562.5" cy="119.5" r="0.58" fill="#2a2a2a"/>
<circle cx="575.5" cy="119.5" r="0.58" fill="#2a2a2a"/>
<circle cx="560.5" cy="119.5" r="0.58" fill="#2a2a2a"/>
<circle cx="577.5" cy="119.5" r="0.58" fill="#2a2a2a"/>
<circle cx="568.5" cy="118.5" r="0.58" fill="#2a2a2a"/>
<circle cx="570.5" cy="118.5" r="0.58" fill="#2a2a2a"/>
<circle cx="566.5" cy="118.5" r="0.58" fill="#2a2a2a"/>
<circle cx="572.5" cy="117.5" r="0.58" fill="#2a2a2a"/>
<circle cx="564.5" cy="117.5" r="0.58" fill="#2a2a2a"/>
<circle cx="574.5" cy="117.5" r="0.58" fill="#2a2a2a"/>
<circle cx="568.5" cy="116.5" r="0.58" fill="#2a2a2a"/>
<circle cx="570.5" cy="116.5" r="0.58" fill="#2a2a2a"/>
<circle cx="566.5" cy="116.5" r="0.58" fill="#2a2a2a"/>
<circle cx="572.5" cy="115.5" r="0.58" fill="#2a2a2a"/>
<circle cx="564.5" cy="115.5" r="0.58" fill="#2a2a2a"/>
<circle cx="574.5" cy="115.5" r="0.58" fill="#2a2a2a"/>
<circle cx="569.5" cy="115.5" r="0.58" fill="#2a2a2a"/>
<circle cx="567.5" cy="114.5" r="0.58" fill="#2a2a2a"/>
<circle cx="571.5" cy="114.5" r="0.58" fill="#2a2a2a"/>
<circle cx="565.5" cy="114.5" r="0.58" fill="#2a2a2a"/>
<circle cx="573.5" cy="113.5" r="0.58" fill="#2a2a2a"/>
<circle cx="568.5" cy="113.5" r="0.58" fill="#2a2a2a"/>
<circle cx="570.5" cy="112.5" r="0.58" fill="#2a2a2a"/>
<circle cx="566.5" cy="112.5" r="0.58" fill="#2a2a2a"/>
<circle cx="572.5" cy="112.5" r="0.58" fill="#2a2a2a"/>
<circle cx="564.5" cy="111.5" r="0.58" fill="#2a2a2a"/>
<circle cx="574.5" cy="111.5" r="0.58" fill="#2a2a2a"/>
<circle cx="568.5" cy="111.5" r="0.58" fill="#2a2a2a"/>
<circle cx="570.5" cy="111.5" r="0.58" fill="#2a2a2a"/>
<circle cx="566.5" cy="110.5" r="0.58" fill="#2a2a2a"/>
<circle cx="572.5" cy="110.5" r="0.58" fill="#2a2a2a"/>
<circle cx="564.5" cy="110.5" r="0.58" fill="#2a2a2a"/>
<circle cx="574.5" cy="109.5" r="0.58" fill="#2a2a2a"/>
<circle cx="569.5" cy="109.5" r="0.58" fill="#2a2a2a"/>
<circle cx="567.5" cy="109.5" r="0.58" fill="#2a2a2a"/>
<circle cx="571.5" cy="109.5" r="0.58" fill="#2a2a2a"/>
<circle cx="565.5" cy="109.5" r="0.58" fill="#2a2a2a"/>
<circle cx="573.5" cy="109.5" r="0.58" fill="#2a2a2a"/>
<circle cx="563.5" cy="108.5" r="0.58" fill="#2a2a2a"/>
<circle cx="574.5" cy="108.5" r="0.58" fill="#2a2a2a"/>
<circle cx="561.5" cy="108.5" r="0.58" fill="#2a2a2a"/>
<circle cx="576.5" cy="108.5" r="0.58" fill="#2a2a2a"/>
<circle cx="559.5" cy="108.5" r="0.58" fill="#2a2a2a"/>
<circle cx="578.5" cy="107.5" r="0.58" fill="#2a2a2a"/>
<circle cx="569.5" cy="107.5" r="0.58" fill="#2a2a2a"/>
<circle cx="567.5" cy="107.5" r="0.58" fill="#2a2a2a"/>
<circle cx="571.5" cy="107.5" r="0.58" fill="#2a2a2a"/>
<circle cx="565.5" cy="106.5" r="0.58" fill="#2a2a2a"/>
<circle cx="573.5" cy="106.5" r="0.58" fill="#2a2a2a"/>
<circle cx="563.5" cy="106.5" r="0.58" fill="#2a2a2a"/>
<circle cx="574.5" cy="106.5" r="0.58" fill="#2a2a2a"/>
<circle cx="561.5" cy="106.5" r="0.58" fill="#2a2a2a"/>
<circle cx="576.5" cy="105.5" r="0.58" fill="#2a2a2a"/>
<circle cx="568.5" cy="105.5" r="0.58" fill="#2a2a2a"/>
<circle cx="570.5" cy="105.5" r="0.58" fill="#2a2a2a"/>
<circle cx="566.5" cy="105.5" r="0.58" fill="#2a2a2a"/>
<circle cx="572.5" cy="105.5" r="0.58" fill="#2a2a2a"/>
<circle cx="564.5" cy="104.5" r="0.58" fill="#2a2a2a"/>
<circle cx="574.5" cy="104.5" r="0.58" fill="#2a2a2a"/>
<circle cx="562.5" cy="104.5" r="0.58" fill="#2a2a2a"/>
<circle cx="575.5" cy="104.5" r="0.58" fill="#2a2a2a"/>
<circle cx="560.5" cy="104.5" r="0.58" fill="#2a2a2a"/>
<circle cx="577.5" cy="104.5" r="0.58" fill="#2a2a2a"/>
<circle cx="569.5" cy="103.5" r="0.58" fill="#2a2a2a"/>
<circle cx="567.5" cy="103.5" r="0.58" fill="#2a2a2a"/>
<circle cx="571.5" cy="103.5" r="0.58" fill="#2a2a2a"/>
<circle cx="565.5" cy="103.5" r="0.58" fill="#2a2a2a"/>
<circle cx="573.5" cy="103.5" r="0.58" fill="#2a2a2a"/>
<circle cx="563.5" cy="102.5" r="0.58" fill="#2a2a2a"/>
<circle cx="574.5" cy="102.5" r="0.58" fill="#2a2a2a"/>
<circle cx="561.5" cy="102.5" r="0.58" fill="#2a2a2a"/>
<circle cx="576.5" cy="102.5" r="0.58" fill="#2a2a2a"/>
<circle cx="569.5" cy="101.5" r="0.58" fill="#2a2a2a"/>
<circle cx="567.5" cy="101.5" r="0.58" fill="#2a2a2a"/>
<circle cx="571.5" cy="101.5" r="0.58" fill="#2a2a2a"/>
<circle cx="569.5" cy="99.5" r="0.58" fill="#2a2a2a"/>
<circle cx="569.5" cy="97.5" r="0.58" fill="#2a2a2a"/>
<circle cx="568.5" cy="96.5" r="0.58" fill="#2a2a2a"/>
<circle cx="570.5" cy="94.5" r="0.58" fill="#2a2a2a"/>
<circle cx="569.5" cy="93.5" r="0.58" fill="#2a2a2a"/>
<circle cx="568.5" cy="92.5" r="0.58" fill="#2a2a2a"/>
<circle cx="570.5" cy="90.5" r="0.58" fill="#2a2a2a"/>
<circle cx="569.5" cy="89.5" r="0.58" fill="#2a2a2a"/>
<circle cx="569.5" cy="86.5" r="0.58" fill="#2a2a2a"/>
<circle cx="569.5" cy="86.5" r="0.58" fill="#2a2a2a"/>
<circle cx="568.5" cy="84.5" r="0.58" fill="#2a2a2a"/>
<circle cx="570.5" cy="83.5" r="0.58" fill="#2a2a2a"/>
<circle cx="569.5" cy="81.5" r="0.58" fill="#2a2a2a"/>
<circle cx="569.5" cy="80.5" r="0.58" fill="#2a2a2a"/>
<circle cx="569.5" cy="78.5" r="0.58" fill="#2a2a2a"/>
<circle cx="568.5" cy="74.5" r="0.75" fill="#111"/>
<circle cx="570.5" cy="74.5" r="0.75" fill="#111"/>
<circle cx="569.5" cy="70.5" r="0.75" fill="#111"/>
<circle cx="569.5" cy="69.5" r="0.75" fill="#111"/>
<circle cx="569.5" cy="54.5" r="0.75" fill="#111"/>
<circle cx="569.5" cy="34.5" r="0.75" fill="#111"/>
<circle cx="600.5" cy="119.5" r="0.58" fill="#2a2a2a"/>
<circle cx="598.5" cy="118.5" r="0.58" fill="#2a2a2a"/>
<circle cx="602.5" cy="118.5" r="0.58" fill="#2a2a2a"/>
<circle cx="600.5" cy="115.5" r="0.58" fill="#2a2a2a"/>
<circle cx="600.5" cy="114.5" r="0.58" fill="#2a2a2a"/>
<circle cx="600.5" cy="112.5" r="0.58" fill="#2a2a2a"/>
<circle cx="600.5" cy="109.5" r="0.58" fill="#2a2a2a"/>
<circle cx="600.5" cy="107.5" r="0.58" fill="#2a2a2a"/>
<circle cx="600.5" cy="104.5" r="0.58" fill="#2a2a2a"/>
<circle cx="600.5" cy="103.5" r="0.58" fill="#2a2a2a"/>
<circle cx="600.5" cy="100.5" r="0.58" fill="#2a2a2a"/>
<circle cx="600.5" cy="99.5" r="0.58" fill="#2a2a2a"/>
<circle cx="600.5" cy="97.5" r="0.58" fill="#2a2a2a"/>
<circle cx="600.5" cy="95.5" r="0.58" fill="#2a2a2a"/>
<circle cx="600.5" cy="86.5" r="0.58" fill="#2a2a2a"/>
<circle cx="600.5" cy="78.5" r="0.58" fill="#2a2a2a"/>
<circle cx="631.5" cy="121.5" r="0.58" fill="#2a2a2a"/>
<circle cx="631.5" cy="118.5" r="0.58" fill="#2a2a2a"/>
<circle cx="631.5" cy="117.5" r="0.58" fill="#2a2a2a"/>
<circle cx="631.5" cy="114.5" r="0.58" fill="#2a2a2a"/>
<circle cx="631.5" cy="113.5" r="0.58" fill="#2a2a2a"/>
<circle cx="631.5" cy="112.5" r="0.58" fill="#2a2a2a"/>
<circle cx="630.5" cy="110.5" r="0.58" fill="#2a2a2a"/>
<circle cx="632.5" cy="108.5" r="0.58" fill="#2a2a2a"/>
<circle cx="631.5" cy="107.5" r="0.58" fill="#2a2a2a"/>
<circle cx="631.5" cy="103.5" r="0.58" fill="#2a2a2a"/>
<circle cx="631.5" cy="102.5" r="0.58" fill="#2a2a2a"/>
<circle cx="631.5" cy="100.5" r="0.58" fill="#2a2a2a"/>
<circle cx="631.5" cy="93.5" r="0.58" fill="#2a2a2a"/>
<circle cx="631.5" cy="88.5" r="0.58" fill="#2a2a2a"/>
<circle cx="661.5" cy="118.5" r="0.58" fill="#2a2a2a"/>
<circle cx="663.5" cy="118.5" r="0.58" fill="#2a2a2a"/>
<circle cx="662.5" cy="113.5" r="0.58" fill="#2a2a2a"/>
<circle cx="662.5" cy="111.5" r="0.58" fill="#2a2a2a"/>
<circle cx="662.5" cy="107.5" r="0.58" fill="#2a2a2a"/>
<circle cx="662.5" cy="104.5" r="0.58" fill="#2a2a2a"/>
<circle cx="662.5" cy="99.5" r="0.58" fill="#2a2a2a"/>
<circle cx="662.5" cy="96.5" r="0.58" fill="#2a2a2a"/>
<circle cx="662.5" cy="88.5" r="0.58" fill="#2a2a2a"/>
<line x1="517.40" y1="25.00" x2="517.40" y2="136.65" stroke="#111" stroke-width="1.2"/>
<line x1="516.80" y1="135.90" x2="683.80" y2="135.90" stroke="#3a3a3a" stroke-width="1.6"/>
<line x1="514.40" y1="47.70" x2="517.40" y2="47.70" stroke="#111" stroke-width="0.9"/>
<text transform="translate(513.20,50.78) scale(0.83,1)" font-size="9.07" text-anchor="end">2</text>
<line x1="514.40" y1="91.80" x2="517.40" y2="91.80" stroke="#111" stroke-width="0.9"/>
<text transform="translate(513.20,94.88) scale(0.83,1)" font-size="9.07" text-anchor="end">1</text>
<line x1="514.40" y1="135.90" x2="517.40" y2="135.90" stroke="#111" stroke-width="0.9"/>
<text transform="translate(513.20,138.98) scale(0.83,1)" font-size="9.07" text-anchor="end">0</text>
<line x1="538.20" y1="135.90" x2="538.20" y2="139.10" stroke="#111" stroke-width="1.0"/>
<text transform="translate(538.20,147.90) scale(0.9,1)" font-size="9.2" text-anchor="middle">Controls</text>
<line x1="569.25" y1="135.90" x2="569.25" y2="139.10" stroke="#111" stroke-width="1.0"/>
<text transform="translate(569.25,147.90) scale(0.9,1)" font-size="9.2" text-anchor="middle">PD</text>
<line x1="600.30" y1="135.90" x2="600.30" y2="139.10" stroke="#111" stroke-width="1.0"/>
<text transform="translate(600.30,147.90) scale(0.9,1)" font-size="9.2" text-anchor="middle">PDD</text>
<line x1="631.35" y1="135.90" x2="631.35" y2="139.10" stroke="#111" stroke-width="1.0"/>
<text transform="translate(631.35,147.90) scale(0.9,1)" font-size="9.2" text-anchor="middle">MSA</text>
<line x1="662.40" y1="135.90" x2="662.40" y2="139.10" stroke="#111" stroke-width="1.0"/>
<text transform="translate(662.40,147.90) scale(0.9,1)" font-size="9.2" text-anchor="middle">PSP</text>
<text transform="translate(503.10,80.45) rotate(-90) scale(0.94,1)" font-size="9.6" font-weight="bold" text-anchor="middle">IL6 ng/L</text>
<text transform="translate(488.90,16.60) scale(0.9,1)" font-size="8.8" font-weight="bold">c</text>
<line x1="63.50" y1="259.50" x2="63.50" y2="280.50" stroke="#222" stroke-width="1"/>
<line x1="63.50" y1="295.50" x2="63.50" y2="310.50" stroke="#222" stroke-width="1"/>
<line x1="58.00" y1="259.50" x2="69.00" y2="259.50" stroke="#222" stroke-width="1.35"/>
<line x1="58.00" y1="310.50" x2="69.00" y2="310.50" stroke="#222" stroke-width="1.35"/>
<rect x="53.50" y="280.50" width="20.00" height="15.00" fill="none" stroke="#222" stroke-width="1.35"/>
<line x1="53.50" y1="290.50" x2="73.50" y2="290.50" stroke="#222" stroke-width="1.35"/>
<line x1="94.50" y1="252.50" x2="94.50" y2="275.50" stroke="#999" stroke-width="1"/>
<line x1="94.50" y1="291.50" x2="94.50" y2="303.50" stroke="#999" stroke-width="1"/>
<line x1="89.00" y1="252.50" x2="100.00" y2="252.50" stroke="#999" stroke-width="1.0"/>
<line x1="89.00" y1="303.50" x2="100.00" y2="303.50" stroke="#999" stroke-width="1.0"/>
<rect x="84.50" y="275.50" width="20.00" height="16.00" fill="none" stroke="#999" stroke-width="1.0"/>
<line x1="84.50" y1="283.50" x2="104.50" y2="283.50" stroke="#999" stroke-width="1.0"/>
<line x1="125.50" y1="241.50" x2="125.50" y2="265.50" stroke="#555" stroke-width="1"/>
<line x1="125.50" y1="288.50" x2="125.50" y2="297.50" stroke="#555" stroke-width="1"/>
<line x1="120.00" y1="241.50" x2="131.00" y2="241.50" stroke="#555" stroke-width="1.0"/>
<line x1="120.00" y1="297.50" x2="131.00" y2="297.50" stroke="#555" stroke-width="1.0"/>
<rect x="115.50" y="265.50" width="20.00" height="23.00" fill="none" stroke="#555" stroke-width="1.0"/>
<line x1="115.50" y1="275.50" x2="135.50" y2="275.50" stroke="#555" stroke-width="1.0"/>
<line x1="156.50" y1="242.50" x2="156.50" y2="263.50" stroke="#cfcfcf" stroke-width="1"/>
<line x1="156.50" y1="293.50" x2="156.50" y2="303.50" stroke="#cfcfcf" stroke-width="1"/>
<line x1="151.00" y1="242.50" x2="162.00" y2="242.50" stroke="#cfcfcf" stroke-width="1.0"/>
<line x1="151.00" y1="303.50" x2="162.00" y2="303.50" stroke="#cfcfcf" stroke-width="1.0"/>
<rect x="146.50" y="263.50" width="21.00" height="30.00" fill="none" stroke="#cfcfcf" stroke-width="1.0"/>
<line x1="146.50" y1="281.50" x2="167.50" y2="281.50" stroke="#cfcfcf" stroke-width="1.0"/>
<line x1="187.50" y1="244.50" x2="187.50" y2="255.50" stroke="#555" stroke-width="1"/>
<line x1="187.50" y1="281.50" x2="187.50" y2="289.50" stroke="#555" stroke-width="1"/>
<line x1="182.00" y1="244.50" x2="193.00" y2="244.50" stroke="#555" stroke-width="1.0"/>
<line x1="182.00" y1="289.50" x2="193.00" y2="289.50" stroke="#555" stroke-width="1.0"/>
<rect x="177.50" y="255.50" width="21.00" height="26.00" fill="none" stroke="#555" stroke-width="1.0"/>
<line x1="177.50" y1="272.50" x2="198.50" y2="272.50" stroke="#555" stroke-width="1.0"/>
<circle cx="62.5" cy="308.5" r="0.6" fill="#2a2a2a"/>
<circle cx="64.5" cy="307.5" r="0.6" fill="#2a2a2a"/>
<circle cx="63.5" cy="304.5" r="0.6" fill="#2a2a2a"/>
<circle cx="62.5" cy="300.5" r="0.6" fill="#2a2a2a"/>
<circle cx="64.5" cy="299.5" r="0.6" fill="#2a2a2a"/>
<circle cx="63.5" cy="297.5" r="0.6" fill="#2a2a2a"/>
<circle cx="62.5" cy="295.5" r="0.6" fill="#2a2a2a"/>
<circle cx="64.5" cy="295.5" r="0.6" fill="#2a2a2a"/>
<circle cx="63.5" cy="294.5" r="0.6" fill="#2a2a2a"/>
<circle cx="61.5" cy="294.5" r="0.6" fill="#2a2a2a"/>
<circle cx="65.5" cy="294.5" r="0.6" fill="#2a2a2a"/>
<circle cx="59.5" cy="294.5" r="0.6" fill="#2a2a2a"/>
<circle cx="67.5" cy="293.5" r="0.6" fill="#2a2a2a"/>
<circle cx="63.5" cy="293.5" r="0.6" fill="#2a2a2a"/>
<circle cx="61.5" cy="292.5" r="0.6" fill="#2a2a2a"/>
<circle cx="65.5" cy="292.5" r="0.6" fill="#2a2a2a"/>
<circle cx="59.5" cy="291.5" r="0.6" fill="#2a2a2a"/>
<circle cx="67.5" cy="291.5" r="0.6" fill="#2a2a2a"/>
<circle cx="63.5" cy="291.5" r="0.6" fill="#2a2a2a"/>
<circle cx="61.5" cy="290.5" r="0.6" fill="#2a2a2a"/>
<circle cx="65.5" cy="290.5" r="0.6" fill="#2a2a2a"/>
<circle cx="63.5" cy="289.5" r="0.6" fill="#2a2a2a"/>
<circle cx="61.5" cy="288.5" r="0.6" fill="#2a2a2a"/>
<circle cx="65.5" cy="287.5" r="0.6" fill="#2a2a2a"/>
<circle cx="62.5" cy="287.5" r="0.6" fill="#2a2a2a"/>
<circle cx="64.5" cy="286.5" r="0.6" fill="#2a2a2a"/>
<circle cx="62.5" cy="285.5" r="0.6" fill="#2a2a2a"/>
<circle cx="64.5" cy="285.5" r="0.6" fill="#2a2a2a"/>
<circle cx="60.5" cy="284.5" r="0.6" fill="#2a2a2a"/>
<circle cx="66.5" cy="283.5" r="0.6" fill="#2a2a2a"/>
<circle cx="62.5" cy="283.5" r="0.6" fill="#2a2a2a"/>
<circle cx="64.5" cy="282.5" r="0.6" fill="#2a2a2a"/>
<circle cx="62.5" cy="281.5" r="0.6" fill="#2a2a2a"/>
<circle cx="64.5" cy="281.5" r="0.6" fill="#2a2a2a"/>
<circle cx="63.5" cy="278.5" r="0.6" fill="#2a2a2a"/>
<circle cx="63.5" cy="276.5" r="0.6" fill="#2a2a2a"/>
<circle cx="63.5" cy="271.5" r="0.6" fill="#2a2a2a"/>
<circle cx="63.5" cy="266.5" r="0.6" fill="#2a2a2a"/>
<circle cx="63.5" cy="263.5" r="0.6" fill="#2a2a2a"/>
<circle cx="63.5" cy="261.5" r="0.6" fill="#2a2a2a"/>
<circle cx="63.5" cy="256.5" r="0.75" fill="#111"/>
<circle cx="94.5" cy="318.5" r="0.75" fill="#111"/>
<circle cx="94.5" cy="302.5" r="0.6" fill="#2a2a2a"/>
<circle cx="92.5" cy="302.5" r="0.6" fill="#2a2a2a"/>
<circle cx="96.5" cy="301.5" r="0.6" fill="#2a2a2a"/>
<circle cx="94.5" cy="300.5" r="0.6" fill="#2a2a2a"/>
<circle cx="92.5" cy="300.5" r="0.6" fill="#2a2a2a"/>
<circle cx="96.5" cy="299.5" r="0.6" fill="#2a2a2a"/>
<circle cx="94.5" cy="298.5" r="0.6" fill="#2a2a2a"/>
<circle cx="92.5" cy="298.5" r="0.6" fill="#2a2a2a"/>
<circle cx="96.5" cy="297.5" r="0.6" fill="#2a2a2a"/>
<circle cx="94.5" cy="297.5" r="0.6" fill="#2a2a2a"/>
<circle cx="92.5" cy="296.5" r="0.6" fill="#2a2a2a"/>
<circle cx="96.5" cy="295.5" r="0.6" fill="#2a2a2a"/>
<circle cx="94.5" cy="295.5" r="0.6" fill="#2a2a2a"/>
<circle cx="92.5" cy="294.5" r="0.6" fill="#2a2a2a"/>
<circle cx="96.5" cy="294.5" r="0.6" fill="#2a2a2a"/>
<circle cx="93.5" cy="293.5" r="0.6" fill="#2a2a2a"/>
<circle cx="95.5" cy="292.5" r="0.6" fill="#2a2a2a"/>
<circle cx="93.5" cy="291.5" r="0.6" fill="#2a2a2a"/>
<circle cx="95.5" cy="291.5" r="0.6" fill="#2a2a2a"/>
<circle cx="91.5" cy="291.5" r="0.6" fill="#2a2a2a"/>
<circle cx="97.5" cy="291.5" r="0.6" fill="#2a2a2a"/>
<circle cx="89.5" cy="290.5" r="0.6" fill="#2a2a2a"/>
<circle cx="99.5" cy="290.5" r="0.6" fill="#2a2a2a"/>
<circle cx="87.5" cy="290.5" r="0.6" fill="#2a2a2a"/>
<circle cx="101.5" cy="290.5" r="0.6" fill="#2a2a2a"/>
<circle cx="94.5" cy="289.5" r="0.6" fill="#2a2a2a"/>
<circle cx="92.5" cy="289.5" r="0.6" fill="#2a2a2a"/>
<circle cx="96.5" cy="289.5" r="0.6" fill="#2a2a2a"/>
<circle cx="90.5" cy="289.5" r="0.6" fill="#2a2a2a"/>
<circle cx="98.5" cy="289.5" r="0.6" fill="#2a2a2a"/>
<circle cx="88.5" cy="289.5" r="0.6" fill="#2a2a2a"/>
<circle cx="100.5" cy="288.5" r="0.6" fill="#2a2a2a"/>
<circle cx="86.5" cy="288.5" r="0.6" fill="#2a2a2a"/>
<circle cx="102.5" cy="288.5" r="0.6" fill="#2a2a2a"/>
<circle cx="85.5" cy="288.5" r="0.6" fill="#2a2a2a"/>
<circle cx="104.5" cy="288.5" r="0.6" fill="#2a2a2a"/>
<circle cx="94.5" cy="287.5" r="0.6" fill="#2a2a2a"/>
<circle cx="92.5" cy="287.5" r="0.6" fill="#2a2a2a"/>
<circle cx="96.5" cy="287.5" r="0.6" fill="#2a2a2a"/>
<circle cx="90.5" cy="287.5" r="0.6" fill="#2a2a2a"/>
<circle cx="98.5" cy="287.5" r="0.6" fill="#2a2a2a"/>
<circle cx="88.5" cy="287.5" r="0.6" fill="#2a2a2a"/>
<circle cx="100.5" cy="286.5" r="0.6" fill="#2a2a2a"/>
<circle cx="86.5" cy="286.5" r="0.6" fill="#2a2a2a"/>
<circle cx="102.5" cy="286.5" r="0.6" fill="#2a2a2a"/>
<circle cx="93.5" cy="286.5" r="0.6" fill="#2a2a2a"/>
<circle cx="95.5" cy="285.5" r="0.6" fill="#2a2a2a"/>
<circle cx="91.5" cy="285.5" r="0.6" fill="#2a2a2a"/>
<circle cx="97.5" cy="285.5" r="0.6" fill="#2a2a2a"/>
<circle cx="89.5" cy="285.5" r="0.6" fill="#2a2a2a"/>
<circle cx="99.5" cy="285.5" r="0.6" fill="#2a2a2a"/>
<circle cx="87.5" cy="284.5" r="0.6" fill="#2a2a2a"/>
<circle cx="101.5" cy="284.5" r="0.6" fill="#2a2a2a"/>
<circle cx="85.5" cy="284.5" r="0.6" fill="#2a2a2a"/>
<circle cx="103.5" cy="284.5" r="0.6" fill="#2a2a2a"/>
<circle cx="94.5" cy="284.5" r="0.6" fill="#2a2a2a"/>
<circle cx="92.5" cy="283.5" r="0.6" fill="#2a2a2a"/>
<circle cx="96.5" cy="283.5" r="0.6" fill="#2a2a2a"/>
<circle cx="90.5" cy="283.5" r="0.6" fill="#2a2a2a"/>
<circle cx="98.5" cy="283.5" r="0.6" fill="#2a2a2a"/>
<circle cx="88.5" cy="282.5" r="0.6" fill="#2a2a2a"/>
<circle cx="100.5" cy="282.5" r="0.6" fill="#2a2a2a"/>
<circle cx="86.5" cy="282.5" r="0.6" fill="#2a2a2a"/>
<circle cx="102.5" cy="282.5" r="0.6" fill="#2a2a2a"/>
<circle cx="93.5" cy="282.5" r="0.6" fill="#2a2a2a"/>
<circle cx="95.5" cy="282.5" r="0.6" fill="#2a2a2a"/>
<circle cx="91.5" cy="282.5" r="0.6" fill="#2a2a2a"/>
<circle cx="97.5" cy="281.5" r="0.6" fill="#2a2a2a"/>
<circle cx="89.5" cy="281.5" r="0.6" fill="#2a2a2a"/>
<circle cx="99.5" cy="281.5" r="0.6" fill="#2a2a2a"/>
<circle cx="87.5" cy="281.5" r="0.6" fill="#2a2a2a"/>
<circle cx="101.5" cy="280.5" r="0.6" fill="#2a2a2a"/>
<circle cx="85.5" cy="280.5" r="0.6" fill="#2a2a2a"/>
<circle cx="103.5" cy="280.5" r="0.6" fill="#2a2a2a"/>
<circle cx="93.5" cy="280.5" r="0.6" fill="#2a2a2a"/>
<circle cx="95.5" cy="280.5" r="0.6" fill="#2a2a2a"/>
<circle cx="91.5" cy="279.5" r="0.6" fill="#2a2a2a"/>
<circle cx="97.5" cy="279.5" r="0.6" fill="#2a2a2a"/>
<circle cx="89.5" cy="279.5" r="0.6" fill="#2a2a2a"/>
<circle cx="99.5" cy="279.5" r="0.6" fill="#2a2a2a"/>
<circle cx="87.5" cy="279.5" r="0.6" fill="#2a2a2a"/>
<circle cx="101.5" cy="279.5" r="0.6" fill="#2a2a2a"/>
<circle cx="85.5" cy="278.5" r="0.6" fill="#2a2a2a"/>
<circle cx="103.5" cy="278.5" r="0.6" fill="#2a2a2a"/>
<circle cx="93.5" cy="278.5" r="0.6" fill="#2a2a2a"/>
<circle cx="95.5" cy="278.5" r="0.6" fill="#2a2a2a"/>
<circle cx="91.5" cy="277.5" r="0.6" fill="#2a2a2a"/>
<circle cx="97.5" cy="277.5" r="0.6" fill="#2a2a2a"/>
<circle cx="89.5" cy="277.5" r="0.6" fill="#2a2a2a"/>
<circle cx="99.5" cy="277.5" r="0.6" fill="#2a2a2a"/>
<circle cx="87.5" cy="277.5" r="0.6" fill="#2a2a2a"/>
<circle cx="101.5" cy="277.5" r="0.6" fill="#2a2a2a"/>
<circle cx="85.5" cy="276.5" r="0.6" fill="#2a2a2a"/>
<circle cx="103.5" cy="276.5" r="0.6" fill="#2a2a2a"/>
<circle cx="93.5" cy="276.5" r="0.6" fill="#2a2a2a"/>
<circle cx="95.5" cy="276.5" r="0.6" fill="#2a2a2a"/>
<circle cx="91.5" cy="276.5" r="0.6" fill="#2a2a2a"/>
<circle cx="97.5" cy="275.5" r="0.6" fill="#2a2a2a"/>
<circle cx="89.5" cy="275.5" r="0.6" fill="#2a2a2a"/>
<circle cx="99.5" cy="275.5" r="0.6" fill="#2a2a2a"/>
<circle cx="87.5" cy="275.5" r="0.6" fill="#2a2a2a"/>
<circle cx="101.5" cy="274.5" r="0.6" fill="#2a2a2a"/>
<circle cx="94.5" cy="274.5" r="0.6" fill="#2a2a2a"/>
<circle cx="93.5" cy="272.5" r="0.6" fill="#2a2a2a"/>
<circle cx="95.5" cy="272.5" r="0.6" fill="#2a2a2a"/>
<circle cx="93.5" cy="270.5" r="0.6" fill="#2a2a2a"/>
<circle cx="95.5" cy="269.5" r="0.6" fill="#2a2a2a"/>
<circle cx="94.5" cy="267.5" r="0.6" fill="#2a2a2a"/>
<circle cx="93.5" cy="266.5" r="0.6" fill="#2a2a2a"/>
<circle cx="95.5" cy="265.5" r="0.6" fill="#2a2a2a"/>
<circle cx="94.5" cy="263.5" r="0.6" fill="#2a2a2a"/>
<circle cx="94.5" cy="262.5" r="0.6" fill="#2a2a2a"/>
<circle cx="93.5" cy="261.5" r="0.6" fill="#2a2a2a"/>
<circle cx="95.5" cy="260.5" r="0.6" fill="#2a2a2a"/>
<circle cx="93.5" cy="258.5" r="0.6" fill="#2a2a2a"/>
<circle cx="95.5" cy="258.5" r="0.6" fill="#2a2a2a"/>
<circle cx="93.5" cy="257.5" r="0.6" fill="#2a2a2a"/>
<circle cx="95.5" cy="255.5" r="0.6" fill="#2a2a2a"/>
<circle cx="94.5" cy="253.5" r="0.6" fill="#2a2a2a"/>
<circle cx="94.5" cy="252.5" r="0.6" fill="#2a2a2a"/>
<circle cx="94.5" cy="244.5" r="0.75" fill="#111"/>
<circle cx="94.5" cy="244.5" r="0.75" fill="#111"/>
<circle cx="125.5" cy="296.5" r="0.6" fill="#2a2a2a"/>
<circle cx="125.5" cy="293.5" r="0.6" fill="#2a2a2a"/>
<circle cx="125.5" cy="290.5" r="0.6" fill="#2a2a2a"/>
<circle cx="125.5" cy="287.5" r="0.6" fill="#2a2a2a"/>
<circle cx="125.5" cy="285.5" r="0.6" fill="#2a2a2a"/>
<circle cx="125.5" cy="283.5" r="0.6" fill="#2a2a2a"/>
<circle cx="125.5" cy="279.5" r="0.6" fill="#2a2a2a"/>
<circle cx="125.5" cy="276.5" r="0.6" fill="#2a2a2a"/>
<circle cx="125.5" cy="274.5" r="0.6" fill="#2a2a2a"/>
<circle cx="125.5" cy="272.5" r="0.6" fill="#2a2a2a"/>
<circle cx="125.5" cy="270.5" r="0.6" fill="#2a2a2a"/>
<circle cx="125.5" cy="267.5" r="0.6" fill="#2a2a2a"/>
<circle cx="125.5" cy="266.5" r="0.6" fill="#2a2a2a"/>
<circle cx="125.5" cy="260.5" r="0.6" fill="#2a2a2a"/>
<circle cx="125.5" cy="250.5" r="0.6" fill="#2a2a2a"/>
<circle cx="125.5" cy="244.5" r="0.6" fill="#2a2a2a"/>
<circle cx="156.5" cy="302.5" r="0.6" fill="#2a2a2a"/>
<circle cx="156.5" cy="299.5" r="0.6" fill="#2a2a2a"/>
<circle cx="156.5" cy="297.5" r="0.6" fill="#2a2a2a"/>
<circle cx="156.5" cy="295.5" r="0.6" fill="#2a2a2a"/>
<circle cx="156.5" cy="293.5" r="0.6" fill="#2a2a2a"/>
<circle cx="156.5" cy="290.5" r="0.6" fill="#2a2a2a"/>
<circle cx="156.5" cy="287.5" r="0.6" fill="#2a2a2a"/>
<circle cx="156.5" cy="284.5" r="0.6" fill="#2a2a2a"/>
<circle cx="156.5" cy="283.5" r="0.6" fill="#2a2a2a"/>
<circle cx="156.5" cy="280.5" r="0.6" fill="#2a2a2a"/>
<circle cx="156.5" cy="274.5" r="0.6" fill="#2a2a2a"/>
<circle cx="156.5" cy="271.5" r="0.6" fill="#2a2a2a"/>
<circle cx="156.5" cy="268.5" r="0.6" fill="#2a2a2a"/>
<circle cx="156.5" cy="263.5" r="0.6" fill="#2a2a2a"/>
<circle cx="156.5" cy="257.5" r="0.6" fill="#2a2a2a"/>
<circle cx="156.5" cy="254.5" r="0.6" fill="#2a2a2a"/>
<circle cx="156.5" cy="250.5" r="0.6" fill="#2a2a2a"/>
<circle cx="156.5" cy="244.5" r="0.6" fill="#2a2a2a"/>
<circle cx="187.5" cy="287.5" r="0.6" fill="#2a2a2a"/>
<circle cx="187.5" cy="284.5" r="0.6" fill="#2a2a2a"/>
<circle cx="187.5" cy="281.5" r="0.6" fill="#2a2a2a"/>
<circle cx="187.5" cy="276.5" r="0.6" fill="#2a2a2a"/>
<circle cx="187.5" cy="275.5" r="0.6" fill="#2a2a2a"/>
<circle cx="187.5" cy="268.5" r="0.6" fill="#2a2a2a"/>
<circle cx="187.5" cy="260.5" r="0.6" fill="#2a2a2a"/>
<circle cx="187.5" cy="256.5" r="0.6" fill="#2a2a2a"/>
<circle cx="187.5" cy="250.5" r="0.6" fill="#2a2a2a"/>
<circle cx="187.5" cy="248.5" r="0.6" fill="#2a2a2a"/>
<line x1="42.80" y1="219.90" x2="42.80" y2="331.75" stroke="#111" stroke-width="1.2"/>
<line x1="42.20" y1="331.00" x2="208.50" y2="331.00" stroke="#3a3a3a" stroke-width="1.6"/>
<line x1="39.80" y1="220.35" x2="42.80" y2="220.35" stroke="#111" stroke-width="0.9"/>
<text transform="translate(38.40,223.43) scale(0.87,1)" font-size="9.07" text-anchor="end">80</text>
<line x1="39.80" y1="248.01" x2="42.80" y2="248.01" stroke="#111" stroke-width="0.9"/>
<text transform="translate(38.40,251.10) scale(0.87,1)" font-size="9.07" text-anchor="end">60</text>
<line x1="39.80" y1="275.68" x2="42.80" y2="275.68" stroke="#111" stroke-width="0.9"/>
<text transform="translate(38.40,278.76) scale(0.87,1)" font-size="9.07" text-anchor="end">40</text>
<line x1="39.80" y1="303.34" x2="42.80" y2="303.34" stroke="#111" stroke-width="0.9"/>
<text transform="translate(38.40,306.42) scale(0.87,1)" font-size="9.07" text-anchor="end">20</text>
<line x1="39.80" y1="331.00" x2="42.80" y2="331.00" stroke="#111" stroke-width="0.9"/>
<text transform="translate(38.40,334.08) scale(0.87,1)" font-size="9.07" text-anchor="end">0</text>
<line x1="63.45" y1="331.00" x2="63.45" y2="334.20" stroke="#111" stroke-width="1.0"/>
<text transform="translate(63.45,343.10) scale(0.9,1)" font-size="9.2" text-anchor="middle">Controls</text>
<line x1="94.52" y1="331.00" x2="94.52" y2="334.20" stroke="#111" stroke-width="1.0"/>
<text transform="translate(94.52,343.10) scale(0.9,1)" font-size="9.2" text-anchor="middle">PD</text>
<line x1="125.59" y1="331.00" x2="125.59" y2="334.20" stroke="#111" stroke-width="1.0"/>
<text transform="translate(125.59,343.10) scale(0.9,1)" font-size="9.2" text-anchor="middle">PDD</text>
<line x1="156.66" y1="331.00" x2="156.66" y2="334.20" stroke="#111" stroke-width="1.0"/>
<text transform="translate(156.66,343.10) scale(0.9,1)" font-size="9.2" text-anchor="middle">MSA</text>
<line x1="187.73" y1="331.00" x2="187.73" y2="334.20" stroke="#111" stroke-width="1.0"/>
<text transform="translate(187.73,343.10) scale(0.9,1)" font-size="9.2" text-anchor="middle">PSP</text>
<text transform="translate(23.90,275.45) rotate(-90) scale(0.94,1)" font-size="9.6" font-weight="bold" text-anchor="middle">IL8 ng/L</text>
<text transform="translate(16.90,207.40) scale(0.9,1)" font-size="8.8" font-weight="bold">d</text>
<line x1="302.50" y1="271.50" x2="302.50" y2="292.50" stroke="#cfcfcf" stroke-width="1"/>
<line x1="302.50" y1="307.50" x2="302.50" y2="318.50" stroke="#cfcfcf" stroke-width="1"/>
<line x1="297.00" y1="271.50" x2="308.00" y2="271.50" stroke="#cfcfcf" stroke-width="1.0"/>
<line x1="297.00" y1="318.50" x2="308.00" y2="318.50" stroke="#cfcfcf" stroke-width="1.0"/>
<rect x="292.50" y="292.50" width="21.00" height="15.00" fill="none" stroke="#cfcfcf" stroke-width="1.0"/>
<line x1="292.50" y1="299.50" x2="313.50" y2="299.50" stroke="#cfcfcf" stroke-width="1.0"/>
<line x1="334.50" y1="279.50" x2="334.50" y2="295.50" stroke="#999" stroke-width="1"/>
<line x1="334.50" y1="308.50" x2="334.50" y2="324.50" stroke="#999" stroke-width="1"/>
<line x1="329.00" y1="279.50" x2="340.00" y2="279.50" stroke="#999" stroke-width="1.0"/>
<line x1="329.00" y1="324.50" x2="340.00" y2="324.50" stroke="#999" stroke-width="1.0"/>
<rect x="323.50" y="295.50" width="21.00" height="13.00" fill="none" stroke="#999" stroke-width="1.0"/>
<line x1="323.50" y1="301.50" x2="344.50" y2="301.50" stroke="#999" stroke-width="1.0"/>
<line x1="365.50" y1="275.50" x2="365.50" y2="288.50" stroke="#222" stroke-width="1"/>
<line x1="365.50" y1="309.50" x2="365.50" y2="317.50" stroke="#222" stroke-width="1"/>
<line x1="360.00" y1="275.50" x2="371.00" y2="275.50" stroke="#222" stroke-width="1.35"/>
<line x1="360.00" y1="317.50" x2="371.00" y2="317.50" stroke="#222" stroke-width="1.35"/>
<rect x="354.50" y="288.50" width="21.00" height="21.00" fill="none" stroke="#222" stroke-width="1.35"/>
<line x1="354.50" y1="295.50" x2="375.50" y2="295.50" stroke="#222" stroke-width="1.35"/>
<line x1="396.50" y1="275.50" x2="396.50" y2="286.50" stroke="#a8a8a8" stroke-width="1"/>
<line x1="396.50" y1="302.50" x2="396.50" y2="315.50" stroke="#a8a8a8" stroke-width="1"/>
<line x1="391.00" y1="275.50" x2="402.00" y2="275.50" stroke="#a8a8a8" stroke-width="1.0"/>
<line x1="391.00" y1="315.50" x2="402.00" y2="315.50" stroke="#a8a8a8" stroke-width="1.0"/>
<rect x="385.50" y="286.50" width="21.00" height="16.00" fill="none" stroke="#a8a8a8" stroke-width="1.0"/>
<line x1="385.50" y1="293.50" x2="406.50" y2="293.50" stroke="#a8a8a8" stroke-width="1.0"/>
<line x1="427.50" y1="261.50" x2="427.50" y2="276.50" stroke="#888" stroke-width="1"/>
<line x1="427.50" y1="300.50" x2="427.50" y2="310.50" stroke="#888" stroke-width="1"/>
<line x1="422.00" y1="261.50" x2="433.00" y2="261.50" stroke="#888" stroke-width="1.0"/>
<line x1="422.00" y1="310.50" x2="433.00" y2="310.50" stroke="#888" stroke-width="1.0"/>
<rect x="416.50" y="276.50" width="21.00" height="24.00" fill="none" stroke="#888" stroke-width="1.0"/>
<line x1="416.50" y1="288.50" x2="437.50" y2="288.50" stroke="#888" stroke-width="1.0"/>
<circle cx="301.5" cy="317.5" r="0.62" fill="#222"/>
<circle cx="303.5" cy="316.5" r="0.62" fill="#222"/>
<circle cx="302.5" cy="314.5" r="0.62" fill="#222"/>
<circle cx="301.5" cy="313.5" r="0.62" fill="#222"/>
<circle cx="303.5" cy="312.5" r="0.62" fill="#222"/>
<circle cx="302.5" cy="310.5" r="0.62" fill="#222"/>
<circle cx="301.5" cy="309.5" r="0.62" fill="#222"/>
<circle cx="303.5" cy="308.5" r="0.62" fill="#222"/>
<circle cx="301.5" cy="306.5" r="0.62" fill="#222"/>
<circle cx="303.5" cy="306.5" r="0.62" fill="#222"/>
<circle cx="302.5" cy="305.5" r="0.62" fill="#222"/>
<circle cx="301.5" cy="304.5" r="0.62" fill="#222"/>
<circle cx="304.5" cy="304.5" r="0.62" fill="#222"/>
<circle cx="302.5" cy="303.5" r="0.62" fill="#222"/>
<circle cx="301.5" cy="303.5" r="0.62" fill="#222"/>
<circle cx="304.5" cy="302.5" r="0.62" fill="#222"/>
<circle cx="302.5" cy="301.5" r="0.62" fill="#222"/>
<circle cx="301.5" cy="301.5" r="0.62" fill="#222"/>
<circle cx="304.5" cy="300.5" r="0.62" fill="#222"/>
<circle cx="302.5" cy="299.5" r="0.62" fill="#222"/>
<circle cx="301.5" cy="299.5" r="0.62" fill="#222"/>
<circle cx="304.5" cy="298.5" r="0.62" fill="#222"/>
<circle cx="302.5" cy="297.5" r="0.62" fill="#222"/>
<circle cx="301.5" cy="297.5" r="0.62" fill="#222"/>
<circle cx="304.5" cy="296.5" r="0.62" fill="#222"/>
<circle cx="302.5" cy="295.5" r="0.62" fill="#222"/>
<circle cx="301.5" cy="295.5" r="0.62" fill="#222"/>
<circle cx="304.5" cy="295.5" r="0.62" fill="#222"/>
<circle cx="302.5" cy="294.5" r="0.62" fill="#222"/>
<circle cx="301.5" cy="293.5" r="0.62" fill="#222"/>
<circle cx="304.5" cy="293.5" r="0.62" fill="#222"/>
<circle cx="302.5" cy="292.5" r="0.62" fill="#222"/>
<circle cx="302.5" cy="290.5" r="0.62" fill="#222"/>
<circle cx="301.5" cy="288.5" r="0.62" fill="#222"/>
<circle cx="303.5" cy="287.5" r="0.62" fill="#222"/>
<circle cx="302.5" cy="283.5" r="0.62" fill="#222"/>
<circle cx="302.5" cy="279.5" r="0.62" fill="#222"/>
<circle cx="301.5" cy="277.5" r="0.62" fill="#222"/>
<circle cx="303.5" cy="276.5" r="0.62" fill="#222"/>
<circle cx="302.5" cy="274.5" r="0.62" fill="#222"/>
<circle cx="302.5" cy="263.5" r="0.75" fill="#111"/>
<circle cx="302.5" cy="236.5" r="0.75" fill="#111"/>
<circle cx="334.5" cy="323.5" r="0.62" fill="#222"/>
<circle cx="332.5" cy="323.5" r="0.62" fill="#222"/>
<circle cx="335.5" cy="322.5" r="0.62" fill="#222"/>
<circle cx="333.5" cy="321.5" r="0.62" fill="#222"/>
<circle cx="334.5" cy="320.5" r="0.62" fill="#222"/>
<circle cx="333.5" cy="319.5" r="0.62" fill="#222"/>
<circle cx="334.5" cy="318.5" r="0.62" fill="#222"/>
<circle cx="334.5" cy="318.5" r="0.62" fill="#222"/>
<circle cx="332.5" cy="317.5" r="0.62" fill="#222"/>
<circle cx="335.5" cy="316.5" r="0.62" fill="#222"/>
<circle cx="333.5" cy="315.5" r="0.62" fill="#222"/>
<circle cx="334.5" cy="314.5" r="0.62" fill="#222"/>
<circle cx="333.5" cy="314.5" r="0.62" fill="#222"/>
<circle cx="334.5" cy="313.5" r="0.62" fill="#222"/>
<circle cx="333.5" cy="312.5" r="0.62" fill="#222"/>
<circle cx="334.5" cy="310.5" r="0.62" fill="#222"/>
<circle cx="334.5" cy="309.5" r="0.62" fill="#222"/>
<circle cx="332.5" cy="309.5" r="0.62" fill="#222"/>
<circle cx="335.5" cy="308.5" r="0.62" fill="#222"/>
<circle cx="334.5" cy="308.5" r="0.62" fill="#222"/>
<circle cx="332.5" cy="308.5" r="0.62" fill="#222"/>
<circle cx="335.5" cy="308.5" r="0.62" fill="#222"/>
<circle cx="330.5" cy="308.5" r="0.62" fill="#222"/>
<circle cx="337.5" cy="308.5" r="0.62" fill="#222"/>
<circle cx="328.5" cy="307.5" r="0.62" fill="#222"/>
<circle cx="339.5" cy="307.5" r="0.62" fill="#222"/>
<circle cx="326.5" cy="307.5" r="0.62" fill="#222"/>
<circle cx="341.5" cy="307.5" r="0.62" fill="#222"/>
<circle cx="324.5" cy="307.5" r="0.62" fill="#222"/>
<circle cx="343.5" cy="306.5" r="0.62" fill="#222"/>
<circle cx="334.5" cy="306.5" r="0.62" fill="#222"/>
<circle cx="332.5" cy="306.5" r="0.62" fill="#222"/>
<circle cx="335.5" cy="306.5" r="0.62" fill="#222"/>
<circle cx="330.5" cy="306.5" r="0.62" fill="#222"/>
<circle cx="337.5" cy="306.5" r="0.62" fill="#222"/>
<circle cx="328.5" cy="305.5" r="0.62" fill="#222"/>
<circle cx="339.5" cy="305.5" r="0.62" fill="#222"/>
<circle cx="326.5" cy="305.5" r="0.62" fill="#222"/>
<circle cx="341.5" cy="305.5" r="0.62" fill="#222"/>
<circle cx="324.5" cy="305.5" r="0.62" fill="#222"/>
<circle cx="343.5" cy="305.5" r="0.62" fill="#222"/>
<circle cx="334.5" cy="304.5" r="0.62" fill="#222"/>
<circle cx="332.5" cy="304.5" r="0.62" fill="#222"/>
<circle cx="335.5" cy="304.5" r="0.62" fill="#222"/>
<circle cx="330.5" cy="304.5" r="0.62" fill="#222"/>
<circle cx="337.5" cy="304.5" r="0.62" fill="#222"/>
<circle cx="328.5" cy="303.5" r="0.62" fill="#222"/>
<circle cx="339.5" cy="303.5" r="0.62" fill="#222"/>
<circle cx="326.5" cy="303.5" r="0.62" fill="#222"/>
<circle cx="341.5" cy="303.5" r="0.62" fill="#222"/>
<circle cx="324.5" cy="303.5" r="0.62" fill="#222"/>
<circle cx="343.5" cy="303.5" r="0.62" fill="#222"/>
<circle cx="333.5" cy="302.5" r="0.62" fill="#222"/>
<circle cx="334.5" cy="302.5" r="0.62" fill="#222"/>
<circle cx="331.5" cy="302.5" r="0.62" fill="#222"/>
<circle cx="336.5" cy="302.5" r="0.62" fill="#222"/>
<circle cx="329.5" cy="302.5" r="0.62" fill="#222"/>
<circle cx="338.5" cy="302.5" r="0.62" fill="#222"/>
<circle cx="327.5" cy="301.5" r="0.62" fill="#222"/>
<circle cx="340.5" cy="301.5" r="0.62" fill="#222"/>
<circle cx="325.5" cy="301.5" r="0.62" fill="#222"/>
<circle cx="342.5" cy="301.5" r="0.62" fill="#222"/>
<circle cx="333.5" cy="301.5" r="0.62" fill="#222"/>
<circle cx="334.5" cy="301.5" r="0.62" fill="#222"/>
<circle cx="332.5" cy="300.5" r="0.62" fill="#222"/>
<circle cx="335.5" cy="300.5" r="0.62" fill="#222"/>
<circle cx="330.5" cy="300.5" r="0.62" fill="#222"/>
<circle cx="337.5" cy="300.5" r="0.62" fill="#222"/>
<circle cx="329.5" cy="300.5" r="0.62" fill="#222"/>
<circle cx="338.5" cy="300.5" r="0.62" fill="#222"/>
<circle cx="328.5" cy="300.5" r="0.62" fill="#222"/>
<circle cx="339.5" cy="299.5" r="0.62" fill="#222"/>
<circle cx="327.5" cy="299.5" r="0.62" fill="#222"/>
<circle cx="340.5" cy="299.5" r="0.62" fill="#222"/>
<circle cx="325.5" cy="299.5" r="0.62" fill="#222"/>
<circle cx="342.5" cy="299.5" r="0.62" fill="#222"/>
<circle cx="324.5" cy="299.5" r="0.62" fill="#222"/>
<circle cx="343.5" cy="299.5" r="0.62" fill="#222"/>
<circle cx="334.5" cy="298.5" r="0.62" fill="#222"/>
<circle cx="332.5" cy="298.5" r="0.62" fill="#222"/>
<circle cx="335.5" cy="298.5" r="0.62" fill="#222"/>
<circle cx="330.5" cy="298.5" r="0.62" fill="#222"/>
<circle cx="337.5" cy="298.5" r="0.62" fill="#222"/>
<circle cx="329.5" cy="298.5" r="0.62" fill="#222"/>
<circle cx="338.5" cy="298.5" r="0.62" fill="#222"/>
<circle cx="327.5" cy="297.5" r="0.62" fill="#222"/>
<circle cx="340.5" cy="297.5" r="0.62" fill="#222"/>
<circle cx="326.5" cy="297.5" r="0.62" fill="#222"/>
<circle cx="341.5" cy="297.5" r="0.62" fill="#222"/>
<circle cx="324.5" cy="297.5" r="0.62" fill="#222"/>
<circle cx="343.5" cy="297.5" r="0.62" fill="#222"/>
<circle cx="334.5" cy="297.5" r="0.62" fill="#222"/>
<circle cx="332.5" cy="296.5" r="0.62" fill="#222"/>
<circle cx="335.5" cy="296.5" r="0.62" fill="#222"/>
<circle cx="330.5" cy="296.5" r="0.62" fill="#222"/>
<circle cx="337.5" cy="296.5" r="0.62" fill="#222"/>
<circle cx="328.5" cy="296.5" r="0.62" fill="#222"/>
<circle cx="339.5" cy="296.5" r="0.62" fill="#222"/>
<circle cx="326.5" cy="296.5" r="0.62" fill="#222"/>
<circle cx="341.5" cy="296.5" r="0.62" fill="#222"/>
<circle cx="324.5" cy="295.5" r="0.62" fill="#222"/>
<circle cx="343.5" cy="295.5" r="0.62" fill="#222"/>
<circle cx="333.5" cy="295.5" r="0.62" fill="#222"/>
<circle cx="334.5" cy="294.5" r="0.62" fill="#222"/>
<circle cx="334.5" cy="293.5" r="0.62" fill="#222"/>
<circle cx="332.5" cy="292.5" r="0.62" fill="#222"/>
<circle cx="335.5" cy="291.5" r="0.62" fill="#222"/>
<circle cx="333.5" cy="290.5" r="0.62" fill="#222"/>
<circle cx="334.5" cy="289.5" r="0.62" fill="#222"/>
<circle cx="333.5" cy="288.5" r="0.62" fill="#222"/>
<circle cx="334.5" cy="287.5" r="0.62" fill="#222"/>
<circle cx="333.5" cy="286.5" r="0.62" fill="#222"/>
<circle cx="334.5" cy="286.5" r="0.62" fill="#222"/>
<circle cx="333.5" cy="285.5" r="0.62" fill="#222"/>
<circle cx="334.5" cy="284.5" r="0.62" fill="#222"/>
<circle cx="333.5" cy="283.5" r="0.62" fill="#222"/>
<circle cx="334.5" cy="282.5" r="0.62" fill="#222"/>
<circle cx="333.5" cy="281.5" r="0.62" fill="#222"/>
<circle cx="334.5" cy="281.5" r="0.62" fill="#222"/>
<circle cx="334.5" cy="279.5" r="0.62" fill="#222"/>
<circle cx="334.5" cy="275.5" r="0.75" fill="#111"/>
<circle cx="365.5" cy="316.5" r="0.6" fill="#2a2a2a"/>
<circle cx="365.5" cy="313.5" r="0.6" fill="#2a2a2a"/>
<circle cx="365.5" cy="311.5" r="0.6" fill="#2a2a2a"/>
<circle cx="365.5" cy="306.5" r="0.6" fill="#2a2a2a"/>
<circle cx="365.5" cy="304.5" r="0.6" fill="#2a2a2a"/>
<circle cx="365.5" cy="300.5" r="0.6" fill="#2a2a2a"/>
<circle cx="365.5" cy="297.5" r="0.6" fill="#2a2a2a"/>
<circle cx="365.5" cy="293.5" r="0.6" fill="#2a2a2a"/>
<circle cx="365.5" cy="292.5" r="0.6" fill="#2a2a2a"/>
<circle cx="365.5" cy="291.5" r="0.6" fill="#2a2a2a"/>
<circle cx="365.5" cy="289.5" r="0.6" fill="#2a2a2a"/>
<circle cx="365.5" cy="286.5" r="0.6" fill="#2a2a2a"/>
<circle cx="365.5" cy="283.5" r="0.6" fill="#2a2a2a"/>
<circle cx="365.5" cy="276.5" r="0.6" fill="#2a2a2a"/>
<circle cx="396.5" cy="311.5" r="0.6" fill="#2a2a2a"/>
<circle cx="396.5" cy="307.5" r="0.6" fill="#2a2a2a"/>
<circle cx="396.5" cy="301.5" r="0.6" fill="#2a2a2a"/>
<circle cx="396.5" cy="299.5" r="0.6" fill="#2a2a2a"/>
<circle cx="396.5" cy="296.5" r="0.6" fill="#2a2a2a"/>
<circle cx="396.5" cy="295.5" r="0.6" fill="#2a2a2a"/>
<circle cx="396.5" cy="292.5" r="0.6" fill="#2a2a2a"/>
<circle cx="396.5" cy="291.5" r="0.6" fill="#2a2a2a"/>
<circle cx="396.5" cy="290.5" r="0.6" fill="#2a2a2a"/>
<circle cx="396.5" cy="287.5" r="0.6" fill="#2a2a2a"/>
<circle cx="396.5" cy="284.5" r="0.6" fill="#2a2a2a"/>
<circle cx="396.5" cy="280.5" r="0.6" fill="#2a2a2a"/>
<circle cx="396.5" cy="278.5" r="0.6" fill="#2a2a2a"/>
<circle cx="396.5" cy="260.5" r="0.75" fill="#111"/>
<circle cx="396.5" cy="258.5" r="0.75" fill="#111"/>
<circle cx="427.5" cy="307.5" r="0.6" fill="#2a2a2a"/>
<circle cx="427.5" cy="303.5" r="0.6" fill="#2a2a2a"/>
<circle cx="427.5" cy="294.5" r="0.6" fill="#2a2a2a"/>
<circle cx="427.5" cy="290.5" r="0.6" fill="#2a2a2a"/>
<circle cx="427.5" cy="286.5" r="0.6" fill="#2a2a2a"/>
<circle cx="427.5" cy="280.5" r="0.6" fill="#2a2a2a"/>
<circle cx="427.5" cy="273.5" r="0.6" fill="#2a2a2a"/>
<circle cx="427.5" cy="264.5" r="0.6" fill="#2a2a2a"/>
<line x1="282.50" y1="219.60" x2="282.50" y2="331.65" stroke="#111" stroke-width="1.2"/>
<line x1="281.90" y1="330.90" x2="448.50" y2="330.90" stroke="#3a3a3a" stroke-width="1.6"/>
<line x1="279.50" y1="220.10" x2="282.50" y2="220.10" stroke="#111" stroke-width="0.9"/>
<text transform="translate(278.40,223.02) scale(0.875,1)" font-size="8.6" text-anchor="end">600000</text>
<line x1="279.50" y1="257.03" x2="282.50" y2="257.03" stroke="#111" stroke-width="0.9"/>
<text transform="translate(278.40,259.96) scale(0.875,1)" font-size="8.6" text-anchor="end">400000</text>
<line x1="279.50" y1="293.97" x2="282.50" y2="293.97" stroke="#111" stroke-width="0.9"/>
<text transform="translate(278.40,296.89) scale(0.875,1)" font-size="8.6" text-anchor="end">200000</text>
<line x1="279.50" y1="330.90" x2="282.50" y2="330.90" stroke="#111" stroke-width="0.9"/>
<text transform="translate(278.40,333.82) scale(0.875,1)" font-size="8.6" text-anchor="end">0</text>
<line x1="302.90" y1="330.90" x2="302.90" y2="334.10" stroke="#111" stroke-width="1.0"/>
<text transform="translate(302.90,343.10) scale(0.9,1)" font-size="9.2" text-anchor="middle">Controls</text>
<line x1="334.00" y1="330.90" x2="334.00" y2="334.10" stroke="#111" stroke-width="1.0"/>
<text transform="translate(334.00,343.10) scale(0.9,1)" font-size="9.2" text-anchor="middle">PD</text>
<line x1="365.10" y1="330.90" x2="365.10" y2="334.10" stroke="#111" stroke-width="1.0"/>
<text transform="translate(365.10,343.10) scale(0.9,1)" font-size="9.2" text-anchor="middle">PDD</text>
<line x1="396.20" y1="330.90" x2="396.20" y2="334.10" stroke="#111" stroke-width="1.0"/>
<text transform="translate(396.20,343.10) scale(0.9,1)" font-size="9.2" text-anchor="middle">MSA</text>
<line x1="427.30" y1="330.90" x2="427.30" y2="334.10" stroke="#111" stroke-width="1.0"/>
<text transform="translate(427.30,343.10) scale(0.9,1)" font-size="9.2" text-anchor="middle">PSP</text>
<text transform="translate(247.90,275.25) rotate(-90) scale(0.94,1)" font-size="9.6" font-weight="bold" text-anchor="middle">YKL-40 ng/L</text>
<text transform="translate(240.90,207.80) scale(0.9,1)" font-size="8.8" font-weight="bold">e</text>
<line x1="302.10" y1="230.50" x2="331.40" y2="230.50" stroke="#bbb" stroke-width="1"/>
<polygon points="316.20,226.05 316.76,227.13 317.96,227.33 317.10,228.19 317.29,229.40 316.20,228.85 315.11,229.40 315.30,228.19 314.44,227.33 315.64,227.13" fill="#111"/>
<line x1="334.10" y1="235.50" x2="427.00" y2="235.50" stroke="#777" stroke-width="1"/>
<polygon points="379.50,230.65 380.06,231.73 381.26,231.93 380.40,232.79 380.59,234.00 379.50,233.45 378.41,234.00 378.60,232.79 377.74,231.93 378.94,231.73" fill="#111"/>
<line x1="334.10" y1="242.50" x2="396.50" y2="242.50" stroke="#888" stroke-width="1"/>
<polygon points="363.20,237.65 363.76,238.73 364.96,238.93 364.10,239.79 364.29,241.00 363.20,240.45 362.11,241.00 362.30,239.79 361.44,238.93 362.64,238.73" fill="#111"/>
<polygon points="366.80,237.65 367.36,238.73 368.56,238.93 367.70,239.79 367.89,241.00 366.80,240.45 365.71,241.00 365.90,239.79 365.04,238.93 366.24,238.73" fill="#111"/>
<line x1="538.50" y1="272.50" x2="538.50" y2="286.50" stroke="#888" stroke-width="1"/>
<line x1="538.50" y1="298.50" x2="538.50" y2="311.50" stroke="#888" stroke-width="1"/>
<line x1="533.00" y1="272.50" x2="544.00" y2="272.50" stroke="#888" stroke-width="1.0"/>
<line x1="533.00" y1="311.50" x2="544.00" y2="311.50" stroke="#888" stroke-width="1.0"/>
<rect x="527.50" y="286.50" width="21.00" height="12.00" fill="none" stroke="#888" stroke-width="1.0"/>
<line x1="527.50" y1="293.50" x2="548.50" y2="293.50" stroke="#888" stroke-width="1.0"/>
<line x1="569.50" y1="263.50" x2="569.50" y2="282.50" stroke="#777" stroke-width="1"/>
<line x1="569.50" y1="297.50" x2="569.50" y2="308.50" stroke="#777" stroke-width="1"/>
<line x1="564.00" y1="263.50" x2="575.00" y2="263.50" stroke="#777" stroke-width="1.0"/>
<line x1="564.00" y1="308.50" x2="575.00" y2="308.50" stroke="#777" stroke-width="1.0"/>
<rect x="558.50" y="282.50" width="21.00" height="15.00" fill="none" stroke="#777" stroke-width="1.0"/>
<line x1="558.50" y1="291.50" x2="579.50" y2="291.50" stroke="#777" stroke-width="1.0"/>
<line x1="600.50" y1="269.50" x2="600.50" y2="283.50" stroke="#444" stroke-width="1"/>
<line x1="600.50" y1="295.50" x2="600.50" y2="309.50" stroke="#444" stroke-width="1"/>
<line x1="595.00" y1="269.50" x2="606.00" y2="269.50" stroke="#444" stroke-width="1.0"/>
<line x1="595.00" y1="309.50" x2="606.00" y2="309.50" stroke="#444" stroke-width="1.0"/>
<rect x="589.50" y="283.50" width="21.00" height="12.00" fill="none" stroke="#444" stroke-width="1.0"/>
<line x1="589.50" y1="292.50" x2="610.50" y2="292.50" stroke="#444" stroke-width="1.0"/>
<line x1="631.50" y1="267.50" x2="631.50" y2="276.50" stroke="#cfcfcf" stroke-width="1"/>
<line x1="631.50" y1="293.50" x2="631.50" y2="305.50" stroke="#cfcfcf" stroke-width="1"/>
<line x1="626.00" y1="267.50" x2="637.00" y2="267.50" stroke="#cfcfcf" stroke-width="1.0"/>
<line x1="626.00" y1="305.50" x2="637.00" y2="305.50" stroke="#cfcfcf" stroke-width="1.0"/>
<rect x="620.50" y="276.50" width="21.00" height="17.00" fill="none" stroke="#cfcfcf" stroke-width="1.0"/>
<line x1="620.50" y1="285.50" x2="641.50" y2="285.50" stroke="#cfcfcf" stroke-width="1.0"/>
<line x1="662.50" y1="273.50" x2="662.50" y2="282.50" stroke="#555" stroke-width="1"/>
<line x1="662.50" y1="295.50" x2="662.50" y2="302.50" stroke="#555" stroke-width="1"/>
<line x1="657.00" y1="273.50" x2="668.00" y2="273.50" stroke="#555" stroke-width="1.0"/>
<line x1="657.00" y1="302.50" x2="668.00" y2="302.50" stroke="#555" stroke-width="1.0"/>
<rect x="652.50" y="282.50" width="20.00" height="13.00" fill="none" stroke="#555" stroke-width="1.0"/>
<line x1="652.50" y1="290.50" x2="672.50" y2="290.50" stroke="#555" stroke-width="1.0"/>
<circle cx="538.5" cy="311.5" r="0.58" fill="#2a2a2a"/>
<circle cx="538.5" cy="308.5" r="0.58" fill="#2a2a2a"/>
<circle cx="538.5" cy="305.5" r="0.58" fill="#2a2a2a"/>
<circle cx="538.5" cy="304.5" r="0.58" fill="#2a2a2a"/>
<circle cx="538.5" cy="301.5" r="0.58" fill="#2a2a2a"/>
<circle cx="537.5" cy="299.5" r="0.58" fill="#2a2a2a"/>
<circle cx="539.5" cy="298.5" r="0.58" fill="#2a2a2a"/>
<circle cx="537.5" cy="297.5" r="0.58" fill="#2a2a2a"/>
<circle cx="539.5" cy="297.5" r="0.58" fill="#2a2a2a"/>
<circle cx="535.5" cy="296.5" r="0.58" fill="#2a2a2a"/>
<circle cx="541.5" cy="296.5" r="0.58" fill="#2a2a2a"/>
<circle cx="533.5" cy="296.5" r="0.58" fill="#2a2a2a"/>
<circle cx="542.5" cy="296.5" r="0.58" fill="#2a2a2a"/>
<circle cx="537.5" cy="295.5" r="0.58" fill="#2a2a2a"/>
<circle cx="539.5" cy="295.5" r="0.58" fill="#2a2a2a"/>
<circle cx="535.5" cy="294.5" r="0.58" fill="#2a2a2a"/>
<circle cx="541.5" cy="294.5" r="0.58" fill="#2a2a2a"/>
<circle cx="537.5" cy="294.5" r="0.58" fill="#2a2a2a"/>
<circle cx="539.5" cy="294.5" r="0.58" fill="#2a2a2a"/>
<circle cx="535.5" cy="293.5" r="0.58" fill="#2a2a2a"/>
<circle cx="541.5" cy="292.5" r="0.58" fill="#2a2a2a"/>
<circle cx="537.5" cy="292.5" r="0.58" fill="#2a2a2a"/>
<circle cx="539.5" cy="291.5" r="0.58" fill="#2a2a2a"/>
<circle cx="535.5" cy="291.5" r="0.58" fill="#2a2a2a"/>
<circle cx="541.5" cy="290.5" r="0.58" fill="#2a2a2a"/>
<circle cx="538.5" cy="290.5" r="0.58" fill="#2a2a2a"/>
<circle cx="536.5" cy="289.5" r="0.58" fill="#2a2a2a"/>
<circle cx="540.5" cy="289.5" r="0.58" fill="#2a2a2a"/>
<circle cx="534.5" cy="288.5" r="0.58" fill="#2a2a2a"/>
<circle cx="542.5" cy="288.5" r="0.58" fill="#2a2a2a"/>
<circle cx="537.5" cy="288.5" r="0.58" fill="#2a2a2a"/>
<circle cx="539.5" cy="287.5" r="0.58" fill="#2a2a2a"/>
<circle cx="535.5" cy="286.5" r="0.58" fill="#2a2a2a"/>
<circle cx="541.5" cy="286.5" r="0.58" fill="#2a2a2a"/>
<circle cx="537.5" cy="284.5" r="0.58" fill="#2a2a2a"/>
<circle cx="539.5" cy="282.5" r="0.58" fill="#2a2a2a"/>
<circle cx="538.5" cy="281.5" r="0.58" fill="#2a2a2a"/>
<circle cx="538.5" cy="278.5" r="0.58" fill="#2a2a2a"/>
<circle cx="538.5" cy="276.5" r="0.58" fill="#2a2a2a"/>
<circle cx="538.5" cy="272.5" r="0.58" fill="#2a2a2a"/>
<circle cx="538.5" cy="262.5" r="0.75" fill="#111"/>
<circle cx="568.5" cy="308.5" r="0.58" fill="#2a2a2a"/>
<circle cx="570.5" cy="307.5" r="0.58" fill="#2a2a2a"/>
<circle cx="566.5" cy="307.5" r="0.58" fill="#2a2a2a"/>
<circle cx="572.5" cy="306.5" r="0.58" fill="#2a2a2a"/>
<circle cx="568.5" cy="305.5" r="0.58" fill="#2a2a2a"/>
<circle cx="570.5" cy="305.5" r="0.58" fill="#2a2a2a"/>
<circle cx="568.5" cy="304.5" r="0.58" fill="#2a2a2a"/>
<circle cx="570.5" cy="303.5" r="0.58" fill="#2a2a2a"/>
<circle cx="566.5" cy="303.5" r="0.58" fill="#2a2a2a"/>
<circle cx="572.5" cy="302.5" r="0.58" fill="#2a2a2a"/>
<circle cx="569.5" cy="302.5" r="0.58" fill="#2a2a2a"/>
<circle cx="567.5" cy="301.5" r="0.58" fill="#2a2a2a"/>
<circle cx="571.5" cy="301.5" r="0.58" fill="#2a2a2a"/>
<circle cx="569.5" cy="300.5" r="0.58" fill="#2a2a2a"/>
<circle cx="567.5" cy="299.5" r="0.58" fill="#2a2a2a"/>
<circle cx="571.5" cy="298.5" r="0.58" fill="#2a2a2a"/>
<circle cx="568.5" cy="298.5" r="0.58" fill="#2a2a2a"/>
<circle cx="570.5" cy="297.5" r="0.58" fill="#2a2a2a"/>
<circle cx="566.5" cy="297.5" r="0.58" fill="#2a2a2a"/>
<circle cx="572.5" cy="297.5" r="0.58" fill="#2a2a2a"/>
<circle cx="564.5" cy="297.5" r="0.58" fill="#2a2a2a"/>
<circle cx="574.5" cy="296.5" r="0.58" fill="#2a2a2a"/>
<circle cx="569.5" cy="296.5" r="0.58" fill="#2a2a2a"/>
<circle cx="567.5" cy="296.5" r="0.58" fill="#2a2a2a"/>
<circle cx="570.5" cy="296.5" r="0.58" fill="#2a2a2a"/>
<circle cx="566.5" cy="296.5" r="0.58" fill="#2a2a2a"/>
<circle cx="572.5" cy="296.5" r="0.58" fill="#2a2a2a"/>
<circle cx="564.5" cy="296.5" r="0.58" fill="#2a2a2a"/>
<circle cx="574.5" cy="296.5" r="0.58" fill="#2a2a2a"/>
<circle cx="562.5" cy="295.5" r="0.58" fill="#2a2a2a"/>
<circle cx="575.5" cy="295.5" r="0.58" fill="#2a2a2a"/>
<circle cx="561.5" cy="295.5" r="0.58" fill="#2a2a2a"/>
<circle cx="577.5" cy="295.5" r="0.58" fill="#2a2a2a"/>
<circle cx="559.5" cy="295.5" r="0.58" fill="#2a2a2a"/>
<circle cx="578.5" cy="295.5" r="0.58" fill="#2a2a2a"/>
<circle cx="568.5" cy="294.5" r="0.58" fill="#2a2a2a"/>
<circle cx="569.5" cy="294.5" r="0.58" fill="#2a2a2a"/>
<circle cx="567.5" cy="294.5" r="0.58" fill="#2a2a2a"/>
<circle cx="571.5" cy="294.5" r="0.58" fill="#2a2a2a"/>
<circle cx="565.5" cy="294.5" r="0.58" fill="#2a2a2a"/>
<circle cx="572.5" cy="294.5" r="0.58" fill="#2a2a2a"/>
<circle cx="564.5" cy="293.5" r="0.58" fill="#2a2a2a"/>
<circle cx="574.5" cy="293.5" r="0.58" fill="#2a2a2a"/>
<circle cx="562.5" cy="293.5" r="0.58" fill="#2a2a2a"/>
<circle cx="575.5" cy="293.5" r="0.58" fill="#2a2a2a"/>
<circle cx="561.5" cy="293.5" r="0.58" fill="#2a2a2a"/>
<circle cx="577.5" cy="293.5" r="0.58" fill="#2a2a2a"/>
<circle cx="559.5" cy="293.5" r="0.58" fill="#2a2a2a"/>
<circle cx="578.5" cy="293.5" r="0.58" fill="#2a2a2a"/>
<circle cx="568.5" cy="292.5" r="0.58" fill="#2a2a2a"/>
<circle cx="570.5" cy="292.5" r="0.58" fill="#2a2a2a"/>
<circle cx="566.5" cy="292.5" r="0.58" fill="#2a2a2a"/>
<circle cx="571.5" cy="292.5" r="0.58" fill="#2a2a2a"/>
<circle cx="564.5" cy="292.5" r="0.58" fill="#2a2a2a"/>
<circle cx="573.5" cy="291.5" r="0.58" fill="#2a2a2a"/>
<circle cx="563.5" cy="291.5" r="0.58" fill="#2a2a2a"/>
<circle cx="575.5" cy="291.5" r="0.58" fill="#2a2a2a"/>
<circle cx="561.5" cy="291.5" r="0.58" fill="#2a2a2a"/>
<circle cx="577.5" cy="291.5" r="0.58" fill="#2a2a2a"/>
<circle cx="559.5" cy="291.5" r="0.58" fill="#2a2a2a"/>
<circle cx="578.5" cy="291.5" r="0.58" fill="#2a2a2a"/>
<circle cx="569.5" cy="290.5" r="0.58" fill="#2a2a2a"/>
<circle cx="567.5" cy="290.5" r="0.58" fill="#2a2a2a"/>
<circle cx="571.5" cy="290.5" r="0.58" fill="#2a2a2a"/>
<circle cx="565.5" cy="290.5" r="0.58" fill="#2a2a2a"/>
<circle cx="573.5" cy="289.5" r="0.58" fill="#2a2a2a"/>
<circle cx="563.5" cy="289.5" r="0.58" fill="#2a2a2a"/>
<circle cx="574.5" cy="289.5" r="0.58" fill="#2a2a2a"/>
<circle cx="569.5" cy="289.5" r="0.58" fill="#2a2a2a"/>
<circle cx="567.5" cy="289.5" r="0.58" fill="#2a2a2a"/>
<circle cx="571.5" cy="288.5" r="0.58" fill="#2a2a2a"/>
<circle cx="565.5" cy="288.5" r="0.58" fill="#2a2a2a"/>
<circle cx="573.5" cy="288.5" r="0.58" fill="#2a2a2a"/>
<circle cx="563.5" cy="287.5" r="0.58" fill="#2a2a2a"/>
<circle cx="574.5" cy="287.5" r="0.58" fill="#2a2a2a"/>
<circle cx="561.5" cy="287.5" r="0.58" fill="#2a2a2a"/>
<circle cx="576.5" cy="287.5" r="0.58" fill="#2a2a2a"/>
<circle cx="569.5" cy="287.5" r="0.58" fill="#2a2a2a"/>
<circle cx="567.5" cy="287.5" r="0.58" fill="#2a2a2a"/>
<circle cx="571.5" cy="286.5" r="0.58" fill="#2a2a2a"/>
<circle cx="565.5" cy="286.5" r="0.58" fill="#2a2a2a"/>
<circle cx="573.5" cy="286.5" r="0.58" fill="#2a2a2a"/>
<circle cx="563.5" cy="286.5" r="0.58" fill="#2a2a2a"/>
<circle cx="574.5" cy="286.5" r="0.58" fill="#2a2a2a"/>
<circle cx="561.5" cy="285.5" r="0.58" fill="#2a2a2a"/>
<circle cx="576.5" cy="285.5" r="0.58" fill="#2a2a2a"/>
<circle cx="569.5" cy="285.5" r="0.58" fill="#2a2a2a"/>
<circle cx="567.5" cy="285.5" r="0.58" fill="#2a2a2a"/>
<circle cx="571.5" cy="284.5" r="0.58" fill="#2a2a2a"/>
<circle cx="565.5" cy="284.5" r="0.58" fill="#2a2a2a"/>
<circle cx="573.5" cy="284.5" r="0.58" fill="#2a2a2a"/>
<circle cx="563.5" cy="284.5" r="0.58" fill="#2a2a2a"/>
<circle cx="574.5" cy="284.5" r="0.58" fill="#2a2a2a"/>
<circle cx="561.5" cy="283.5" r="0.58" fill="#2a2a2a"/>
<circle cx="576.5" cy="283.5" r="0.58" fill="#2a2a2a"/>
<circle cx="568.5" cy="283.5" r="0.58" fill="#2a2a2a"/>
<circle cx="570.5" cy="283.5" r="0.58" fill="#2a2a2a"/>
<circle cx="566.5" cy="282.5" r="0.58" fill="#2a2a2a"/>
<circle cx="572.5" cy="282.5" r="0.58" fill="#2a2a2a"/>
<circle cx="564.5" cy="282.5" r="0.58" fill="#2a2a2a"/>
<circle cx="574.5" cy="282.5" r="0.58" fill="#2a2a2a"/>
<circle cx="562.5" cy="282.5" r="0.58" fill="#2a2a2a"/>
<circle cx="575.5" cy="281.5" r="0.58" fill="#2a2a2a"/>
<circle cx="569.5" cy="281.5" r="0.58" fill="#2a2a2a"/>
<circle cx="568.5" cy="279.5" r="0.58" fill="#2a2a2a"/>
<circle cx="570.5" cy="278.5" r="0.58" fill="#2a2a2a"/>
<circle cx="568.5" cy="277.5" r="0.58" fill="#2a2a2a"/>
<circle cx="570.5" cy="276.5" r="0.58" fill="#2a2a2a"/>
<circle cx="568.5" cy="274.5" r="0.58" fill="#2a2a2a"/>
<circle cx="570.5" cy="274.5" r="0.58" fill="#2a2a2a"/>
<circle cx="568.5" cy="273.5" r="0.58" fill="#2a2a2a"/>
<circle cx="570.5" cy="272.5" r="0.58" fill="#2a2a2a"/>
<circle cx="568.5" cy="271.5" r="0.58" fill="#2a2a2a"/>
<circle cx="570.5" cy="270.5" r="0.58" fill="#2a2a2a"/>
<circle cx="569.5" cy="269.5" r="0.58" fill="#2a2a2a"/>
<circle cx="568.5" cy="268.5" r="0.58" fill="#2a2a2a"/>
<circle cx="570.5" cy="267.5" r="0.58" fill="#2a2a2a"/>
<circle cx="568.5" cy="265.5" r="0.58" fill="#2a2a2a"/>
<circle cx="570.5" cy="265.5" r="0.58" fill="#2a2a2a"/>
<circle cx="569.5" cy="264.5" r="0.58" fill="#2a2a2a"/>
<circle cx="569.5" cy="248.5" r="0.75" fill="#111"/>
<circle cx="569.5" cy="225.5" r="0.75" fill="#111"/>
<circle cx="600.5" cy="308.5" r="0.58" fill="#2a2a2a"/>
<circle cx="600.5" cy="303.5" r="0.58" fill="#2a2a2a"/>
<circle cx="600.5" cy="298.5" r="0.58" fill="#2a2a2a"/>
<circle cx="600.5" cy="295.5" r="0.58" fill="#2a2a2a"/>
<circle cx="598.5" cy="294.5" r="0.58" fill="#2a2a2a"/>
<circle cx="602.5" cy="294.5" r="0.58" fill="#2a2a2a"/>
<circle cx="599.5" cy="292.5" r="0.58" fill="#2a2a2a"/>
<circle cx="601.5" cy="292.5" r="0.58" fill="#2a2a2a"/>
<circle cx="599.5" cy="290.5" r="0.58" fill="#2a2a2a"/>
<circle cx="601.5" cy="290.5" r="0.58" fill="#2a2a2a"/>
<circle cx="600.5" cy="288.5" r="0.58" fill="#2a2a2a"/>
<circle cx="600.5" cy="285.5" r="0.58" fill="#2a2a2a"/>
<circle cx="600.5" cy="283.5" r="0.58" fill="#2a2a2a"/>
<circle cx="600.5" cy="281.5" r="0.58" fill="#2a2a2a"/>
<circle cx="600.5" cy="275.5" r="0.58" fill="#2a2a2a"/>
<circle cx="600.5" cy="273.5" r="0.58" fill="#2a2a2a"/>
<circle cx="599.5" cy="255.5" r="0.75" fill="#111"/>
<circle cx="601.5" cy="255.5" r="0.75" fill="#111"/>
<circle cx="631.5" cy="303.5" r="0.58" fill="#2a2a2a"/>
<circle cx="630.5" cy="299.5" r="0.58" fill="#2a2a2a"/>
<circle cx="632.5" cy="298.5" r="0.58" fill="#2a2a2a"/>
<circle cx="631.5" cy="294.5" r="0.58" fill="#2a2a2a"/>
<circle cx="630.5" cy="292.5" r="0.58" fill="#2a2a2a"/>
<circle cx="632.5" cy="291.5" r="0.58" fill="#2a2a2a"/>
<circle cx="631.5" cy="289.5" r="0.58" fill="#2a2a2a"/>
<circle cx="631.5" cy="287.5" r="0.58" fill="#2a2a2a"/>
<circle cx="631.5" cy="286.5" r="0.58" fill="#2a2a2a"/>
<circle cx="631.5" cy="284.5" r="0.58" fill="#2a2a2a"/>
<circle cx="631.5" cy="282.5" r="0.58" fill="#2a2a2a"/>
<circle cx="630.5" cy="280.5" r="0.58" fill="#2a2a2a"/>
<circle cx="632.5" cy="279.5" r="0.58" fill="#2a2a2a"/>
<circle cx="631.5" cy="278.5" r="0.58" fill="#2a2a2a"/>
<circle cx="630.5" cy="275.5" r="0.58" fill="#2a2a2a"/>
<circle cx="632.5" cy="273.5" r="0.58" fill="#2a2a2a"/>
<circle cx="631.5" cy="271.5" r="0.58" fill="#2a2a2a"/>
<circle cx="631.5" cy="269.5" r="0.58" fill="#2a2a2a"/>
<circle cx="631.5" cy="244.5" r="0.75" fill="#111"/>
<circle cx="662.5" cy="299.5" r="0.58" fill="#2a2a2a"/>
<circle cx="662.5" cy="296.5" r="0.58" fill="#2a2a2a"/>
<circle cx="661.5" cy="293.5" r="0.58" fill="#2a2a2a"/>
<circle cx="663.5" cy="292.5" r="0.58" fill="#2a2a2a"/>
<circle cx="662.5" cy="290.5" r="0.58" fill="#2a2a2a"/>
<circle cx="662.5" cy="288.5" r="0.58" fill="#2a2a2a"/>
<circle cx="662.5" cy="284.5" r="0.58" fill="#2a2a2a"/>
<circle cx="662.5" cy="279.5" r="0.58" fill="#2a2a2a"/>
<circle cx="662.5" cy="277.5" r="0.58" fill="#2a2a2a"/>
<line x1="517.50" y1="220.40" x2="517.50" y2="331.65" stroke="#111" stroke-width="1.2"/>
<line x1="516.90" y1="330.90" x2="683.80" y2="330.90" stroke="#3a3a3a" stroke-width="1.6"/>
<line x1="514.50" y1="232.50" x2="517.50" y2="232.50" stroke="#111" stroke-width="0.9"/>
<text transform="translate(513.50,235.73) scale(0.88,1)" font-size="9.5" text-anchor="end">800</text>
<line x1="514.50" y1="257.10" x2="517.50" y2="257.10" stroke="#111" stroke-width="0.9"/>
<text transform="translate(513.50,260.33) scale(0.88,1)" font-size="9.5" text-anchor="end">600</text>
<line x1="514.50" y1="281.70" x2="517.50" y2="281.70" stroke="#111" stroke-width="0.9"/>
<text transform="translate(513.50,284.93) scale(0.88,1)" font-size="9.5" text-anchor="end">400</text>
<line x1="514.50" y1="306.30" x2="517.50" y2="306.30" stroke="#111" stroke-width="0.9"/>
<text transform="translate(513.50,309.53) scale(0.88,1)" font-size="9.5" text-anchor="end">200</text>
<line x1="514.50" y1="330.90" x2="517.50" y2="330.90" stroke="#111" stroke-width="0.9"/>
<text transform="translate(513.50,334.13) scale(0.88,1)" font-size="9.5" text-anchor="end">0</text>
<line x1="538.20" y1="330.90" x2="538.20" y2="334.10" stroke="#111" stroke-width="1.0"/>
<text transform="translate(538.20,343.10) scale(0.9,1)" font-size="9.2" text-anchor="middle">Controls</text>
<line x1="569.25" y1="330.90" x2="569.25" y2="334.10" stroke="#111" stroke-width="1.0"/>
<text transform="translate(569.25,343.10) scale(0.9,1)" font-size="9.2" text-anchor="middle">PD</text>
<line x1="600.30" y1="330.90" x2="600.30" y2="334.10" stroke="#111" stroke-width="1.0"/>
<text transform="translate(600.30,343.10) scale(0.9,1)" font-size="9.2" text-anchor="middle">PDD</text>
<line x1="631.35" y1="330.90" x2="631.35" y2="334.10" stroke="#111" stroke-width="1.0"/>
<text transform="translate(631.35,343.10) scale(0.9,1)" font-size="9.2" text-anchor="middle">MSA</text>
<line x1="662.40" y1="330.90" x2="662.40" y2="334.10" stroke="#111" stroke-width="1.0"/>
<text transform="translate(662.40,343.10) scale(0.9,1)" font-size="9.2" text-anchor="middle">PSP</text>
<text transform="translate(494.40,275.65) rotate(-90) scale(0.94,1)" font-size="9.6" font-weight="bold" text-anchor="middle">MCP1 ng/L</text>
<text transform="translate(491.20,208.80) scale(0.9,1)" font-size="8.8" font-weight="bold">f</text>
<line x1="569.10" y1="222.50" x2="600.00" y2="222.50" stroke="#999" stroke-width="1"/>
<polygon points="585.70,218.25 586.26,219.33 587.46,219.53 586.60,220.39 586.79,221.60 585.70,221.05 584.61,221.60 584.80,220.39 583.94,219.53 585.14,219.33" fill="#111"/>
<line x1="599.60" y1="228.50" x2="631.40" y2="228.50" stroke="#888" stroke-width="1"/>
<polygon points="615.20,223.65 615.76,224.73 616.96,224.93 616.10,225.79 616.29,227.00 615.20,226.45 614.11,227.00 614.30,225.79 613.44,224.93 614.64,224.73" fill="#111"/>
<polygon points="618.80,223.65 619.36,224.73 620.56,224.93 619.70,225.79 619.89,227.00 618.80,226.45 617.71,227.00 617.90,225.79 617.04,224.93 618.24,224.73" fill="#111"/>
<line x1="599.60" y1="234.50" x2="661.60" y2="234.50" stroke="#999" stroke-width="1"/>
<polygon points="631.40,229.95 631.96,231.03 633.16,231.23 632.30,232.09 632.49,233.30 631.40,232.75 630.31,233.30 630.50,232.09 629.64,231.23 630.84,231.03" fill="#111"/>
<text x="49" y="378.2" font-size="10.4" font-weight="bold" textLength="183.5" lengthAdjust="spacingAndGlyphs">*** p &lt; 0.001, ** p &lt; 0.01, * p &lt; 0.05</text>
</svg>
</body></html>
